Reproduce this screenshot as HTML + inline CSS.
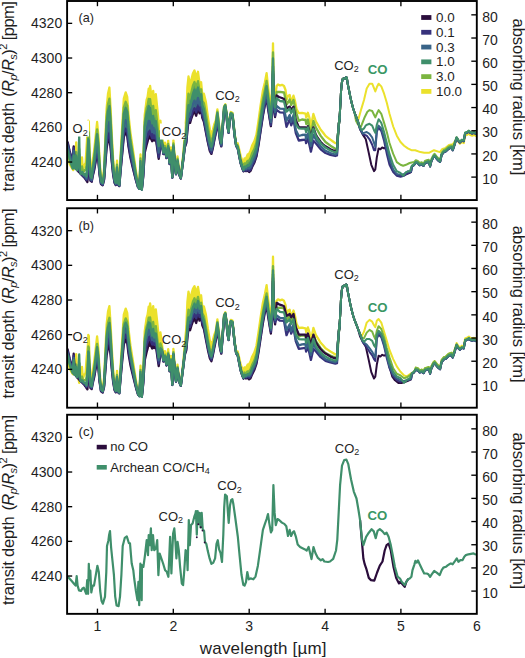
<!DOCTYPE html><html><head><meta charset="utf-8"><style>html,body{margin:0;padding:0;background:#fff;overflow:hidden}svg{display:block}</style></head><body>
<svg width="525" height="658" viewBox="0 0 525 658" style="font-family:'Liberation Sans',sans-serif">
<style>text{stroke:none}</style>
<rect width="525" height="658" fill="#fff"/>
<defs>
<clipPath id="cp0"><rect x="67.1" y="1.0" width="409.70000000000005" height="199.05"/></clipPath>
<clipPath id="cp1"><rect x="67.1" y="208.25" width="409.70000000000005" height="199.45"/></clipPath>
<clipPath id="cp2"><rect x="67.1" y="414.75" width="409.70000000000005" height="199.10000000000002"/></clipPath>
</defs>
<g clip-path="url(#cp0)">
<polygon points="88.3,122.5 88.3,120.6 88.8,121.8 89.5,148.1 90.5,168.9 91.7,171.1 92.7,160.9 94.1,151.1 95.6,136.6 97.1,122.0 98.4,136.2 99.6,160.7 101.0,177.0 102.7,179.1 104.1,168.6 105.3,139.7 106.6,108.5 108.0,93.8 109.4,87.5 110.6,108.4 111.8,135.4 113.2,160.4 114.6,174.9 115.8,179.1 117.0,160.7 118.1,179.2 119.3,181.2 120.5,156.8 121.9,131.7 123.8,98.7 125.7,92.4 127.2,96.9 128.5,114.6 130.4,132.3 132.3,145.5 134.2,158.7 136.1,172.0 138.0,182.9 139.4,186.2 140.5,154.5 141.8,187.4 143.2,163.3 144.7,115.2 146.6,99.9 147.6,96.9 148.7,88.6 149.5,92.9 150.1,86.0 151.1,94.0 152.2,100.7 153.2,90.9 154.2,102.9 155.8,94.1 157.3,108.5 158.7,123.1 160.4,120.6 162.0,135.8 163.4,147.1 164.9,142.7 166.5,151.7 168.2,140.7 169.6,158.7 171.0,147.5 172.3,174.5 173.4,140.2 174.6,156.2 176.0,170.6 177.5,156.4 179.1,170.7 180.8,175.5 181.9,166.1 183.5,151.8 184.8,134.0 186.3,116.3 187.4,87.4 188.5,76.5 190.1,85.9 191.4,79.5 192.9,73.5 194.5,70.4 196.2,77.6 198.0,71.8 199.5,83.2 201.1,82.2 202.3,94.4 203.9,93.8 205.9,102.1 207.9,117.1 209.9,129.8 211.4,135.0 212.8,130.0 214.2,124.5 215.8,120.5 217.4,109.3 218.8,122.2 220.1,135.0 221.3,141.4 222.7,123.8 224.1,106.3 225.3,104.2 226.7,114.1 227.3,123.1 228.6,130.7 229.8,116.7 230.8,112.0 232.4,112.7 233.4,121.1 234.6,133.4 236.2,143.8 237.7,143.3 239.2,149.6 240.7,156.3 242.2,160.1 243.5,162.7 244.5,158.4 246.0,158.5 247.6,154.6 249.1,153.7 250.6,150.4 252.1,145.5 254.3,141.3 256.4,134.8 258.5,120.8 260.6,105.4 262.8,91.1 264.9,82.3 266.6,73.2 268.1,87.4 269.6,99.4 270.9,108.9 272.1,87.8 273.0,43.3 273.8,88.0 275.1,97.5 275.1,103.4 273.8,94.5 273.0,52.4 272.1,94.4 270.9,114.4 269.6,105.5 268.1,94.2 266.6,80.9 264.9,89.7 262.8,99.6 260.6,114.2 258.5,129.3 256.4,142.6 254.3,149.0 252.1,153.2 250.6,157.8 249.1,160.5 247.6,160.9 246.0,163.8 244.5,163.3 243.5,166.9 242.2,164.0 240.7,159.8 239.2,152.5 237.7,145.5 236.2,144.7 234.6,134.2 233.4,122.0 232.4,113.6 230.8,112.8 229.8,117.5 228.6,131.3 227.3,123.7 226.7,114.8 225.3,104.9 224.1,106.9 222.7,124.6 221.3,142.3 220.1,136.2 218.8,123.9 217.4,111.6 215.8,123.3 214.2,129.6 212.8,136.5 211.4,142.1 209.9,137.7 207.9,126.6 205.9,113.5 203.9,103.1 202.3,100.9 201.1,89.3 199.5,91.0 198.0,81.2 196.2,87.5 194.5,82.0 192.9,85.8 191.4,92.2 190.1,98.7 188.5,93.7 187.4,104.6 186.3,126.7 184.8,139.2 183.5,154.2 181.9,167.8 180.8,176.9 179.1,172.3 177.5,158.7 176.0,172.3 174.6,158.6 173.4,143.4 172.3,176.0 171.0,150.4 169.6,161.0 168.2,144.0 166.5,154.5 164.9,146.0 163.4,150.2 162.0,139.6 160.4,131.0 158.7,137.0 157.3,123.7 155.8,110.2 154.2,116.8 153.2,106.0 152.2,114.1 151.1,107.8 150.1,99.2 149.5,104.4 148.7,99.0 147.6,105.4 146.6,108.2 144.7,122.3 143.2,166.6 141.8,188.8 140.5,158.5 139.4,187.7 138.0,184.7 136.1,174.6 134.2,162.5 132.3,150.4 130.4,138.2 128.5,122.0 127.2,105.9 125.7,101.8 123.8,107.7 121.9,138.0 120.5,161.0 119.3,183.3 118.1,181.5 117.0,164.6 115.8,181.4 114.6,177.7 113.2,164.5 111.8,142.0 110.6,117.5 109.4,98.7 108.0,104.3 106.6,117.5 105.3,145.7 104.1,172.0 102.7,181.4 101.0,179.5 99.6,164.7 98.4,142.3 97.1,129.3 95.6,143.2 94.1,156.8 92.7,166.0 91.7,175.2 90.5,173.5 89.5,155.6 88.8,133.0 88.3,131.7 88.3,132.5" fill="#ebe12c" stroke="none"/>
<polygon points="88.3,132.5 88.3,131.7 88.8,133.0 89.5,155.6 90.5,173.5 91.7,175.2 92.7,166.0 94.1,156.8 95.6,143.2 97.1,129.3 98.4,142.3 99.6,164.7 101.0,179.5 102.7,181.4 104.1,172.0 105.3,145.7 106.6,117.5 108.0,104.3 109.4,98.7 110.6,117.5 111.8,142.0 113.2,164.5 114.6,177.7 115.8,181.4 117.0,164.6 118.1,181.5 119.3,183.3 120.5,161.0 121.9,138.0 123.8,107.7 125.7,101.8 127.2,105.9 128.5,122.0 130.4,138.2 132.3,150.4 134.2,162.5 136.1,174.6 138.0,184.7 139.4,187.7 140.5,158.5 141.8,188.8 143.2,166.6 144.7,122.3 146.6,108.2 147.6,105.4 148.7,99.0 149.5,104.4 150.1,99.2 151.1,107.8 152.2,114.1 153.2,106.0 154.2,116.8 155.8,110.2 157.3,123.7 158.7,137.0 160.4,131.0 162.0,139.6 163.4,150.2 164.9,146.0 166.5,154.5 168.2,144.0 169.6,161.0 171.0,150.4 172.3,176.0 173.4,143.4 174.6,158.6 176.0,172.3 177.5,158.7 179.1,172.3 180.8,176.9 181.9,167.8 183.5,154.2 184.8,139.2 186.3,126.7 187.4,104.6 188.5,93.7 190.1,98.7 191.4,92.2 192.9,85.8 194.5,82.0 196.2,87.5 198.0,81.2 199.5,91.0 201.1,89.3 202.3,100.9 203.9,103.1 205.9,113.5 207.9,126.6 209.9,137.7 211.4,142.1 212.8,136.5 214.2,129.6 215.8,123.3 217.4,111.6 218.8,123.9 220.1,136.2 221.3,142.3 222.7,124.6 224.1,106.9 225.3,104.9 226.7,114.8 227.3,123.7 228.6,131.3 229.8,117.5 230.8,112.8 232.4,113.6 233.4,122.0 234.6,134.2 236.2,144.7 237.7,145.5 239.2,152.5 240.7,159.8 242.2,164.0 243.5,166.9 244.5,163.3 246.0,163.8 247.6,160.9 249.1,160.5 250.6,157.8 252.1,153.2 254.3,149.0 256.4,142.6 258.5,129.3 260.6,114.2 262.8,99.6 264.9,89.7 266.6,80.9 268.1,94.2 269.6,105.5 270.9,114.4 272.1,94.4 273.0,52.4 273.8,94.5 275.1,103.4 275.1,107.3 273.8,98.8 273.0,58.4 272.1,98.8 270.9,118.0 269.6,109.5 268.1,98.8 266.6,86.1 264.9,94.6 262.8,105.2 260.6,120.1 258.5,135.0 256.4,147.8 254.3,154.1 252.1,158.4 250.6,162.8 249.1,165.1 247.6,165.1 246.0,167.4 244.5,166.6 243.5,169.7 242.2,166.6 240.7,162.1 239.2,154.5 237.7,146.9 236.2,145.3 234.6,134.7 233.4,122.6 232.4,114.2 230.8,113.4 229.8,118.0 228.6,131.7 227.3,124.1 226.7,115.2 225.3,105.3 224.1,107.3 222.7,125.1 221.3,142.9 220.1,137.0 218.8,125.1 217.4,113.2 215.8,125.1 214.2,133.0 212.8,140.9 211.4,146.8 209.9,142.9 207.9,133.0 205.9,121.1 203.9,109.3 202.3,105.3 201.1,94.1 199.5,96.3 198.0,87.5 196.2,94.1 194.5,89.7 192.9,94.1 191.4,100.7 190.1,107.3 188.5,105.1 187.4,116.1 186.3,133.7 184.8,142.6 183.5,155.8 181.9,169.0 180.8,177.8 179.1,173.4 177.5,160.2 176.0,173.4 174.6,160.2 173.4,145.5 172.3,177.0 171.0,152.3 169.6,162.6 168.2,146.2 166.5,156.4 164.9,148.2 163.4,152.3 162.0,142.1 160.4,138.0 158.7,146.2 157.3,133.9 155.8,121.0 154.2,126.0 153.2,116.0 152.2,123.0 151.1,117.0 150.1,108.0 149.5,112.0 148.7,106.0 147.6,111.0 146.6,113.7 144.7,127.0 143.2,168.8 141.8,189.7 140.5,161.2 139.4,188.7 138.0,185.9 136.1,176.4 134.2,165.0 132.3,153.6 130.4,142.2 128.5,127.0 127.2,111.8 125.7,108.0 123.8,113.7 121.9,142.2 120.5,163.8 119.3,184.7 118.1,183.0 117.0,167.3 115.8,183.0 114.6,179.5 113.2,167.3 111.8,146.3 110.6,123.6 109.4,106.2 108.0,111.4 106.6,123.6 105.3,149.8 104.1,174.2 102.7,183.0 101.0,181.2 99.6,167.3 98.4,146.3 97.1,134.1 95.6,147.6 94.1,160.6 92.7,169.3 91.7,177.9 90.5,176.5 89.5,160.6 88.8,140.4 88.3,139.1 88.3,139.1" fill="#5fa455" stroke="none"/>
<polygon points="88.3,139.1 88.3,139.1 88.8,140.4 89.5,160.6 90.5,176.5 91.7,177.9 92.7,169.3 94.1,160.6 95.6,147.6 97.1,134.1 98.4,146.3 99.6,167.3 101.0,181.2 102.7,183.0 104.1,174.2 105.3,149.8 106.6,123.6 108.0,111.4 109.4,106.2 110.6,123.6 111.8,146.3 113.2,167.3 114.6,179.5 115.8,183.0 117.0,167.3 118.1,183.0 119.3,184.7 120.5,163.8 121.9,142.2 123.8,113.7 125.7,108.0 127.2,111.8 128.5,127.0 130.4,142.2 132.3,153.6 134.2,165.0 136.1,176.4 138.0,185.9 139.4,188.7 140.5,161.2 141.8,189.7 143.2,168.8 144.7,127.0 146.6,113.7 147.6,111.0 148.7,106.0 149.5,112.0 150.1,108.0 151.1,117.0 152.2,123.0 153.2,116.0 154.2,126.0 155.8,121.0 157.3,133.9 158.7,146.2 160.4,138.0 162.0,142.1 163.4,152.3 164.9,148.2 166.5,156.4 168.2,146.2 169.6,162.6 171.0,152.3 172.3,177.0 173.4,145.5 174.6,160.2 176.0,173.4 177.5,160.2 179.1,173.4 180.8,177.8 181.9,169.0 183.5,155.8 184.8,142.6 186.3,133.7 187.4,116.1 188.5,105.1 190.1,107.3 191.4,100.7 192.9,94.1 194.5,89.7 196.2,94.1 198.0,87.5 199.5,96.3 201.1,94.1 202.3,105.3 203.9,109.3 205.9,121.1 207.9,133.0 209.9,142.9 211.4,146.8 212.8,140.9 214.2,133.0 215.8,125.1 217.4,113.2 218.8,125.1 220.1,137.0 221.3,142.9 222.7,125.1 224.1,107.3 225.3,105.3 226.7,115.2 227.3,124.1 228.6,131.7 229.8,118.0 230.8,113.4 232.4,114.2 233.4,122.6 234.6,134.7 236.2,145.3 237.7,146.9 239.2,154.5 240.7,162.1 242.2,166.6 243.5,169.7 244.5,166.6 246.0,167.4 247.6,165.1 249.1,165.1 250.6,162.8 252.1,158.4 254.3,154.1 256.4,147.8 258.5,135.0 260.6,120.1 262.8,105.2 264.9,94.6 266.6,86.1 268.1,98.8 269.6,109.5 270.9,118.0 272.1,98.8 273.0,58.4 273.8,98.8 275.1,107.3 275.1,112.2 273.8,104.1 273.0,66.1 272.1,104.1 270.9,122.1 269.6,114.0 268.1,103.9 266.6,91.8 264.9,99.8 262.8,110.9 260.6,125.6 258.5,140.0 256.4,152.2 254.3,158.5 252.1,162.8 250.6,166.9 249.1,168.5 247.6,167.9 246.0,169.3 244.5,168.0 243.5,170.5 242.2,167.3 240.7,162.8 239.2,155.2 237.7,147.6 236.2,145.8 234.6,135.2 233.4,123.3 232.4,114.9 230.8,114.2 229.8,118.7 228.6,132.3 227.3,124.7 226.7,115.9 225.3,106.5 224.1,109.0 222.7,127.0 221.3,144.7 220.1,139.3 218.8,128.3 217.4,117.5 215.8,129.2 214.2,137.0 212.8,144.6 211.4,150.3 209.9,147.0 207.9,137.8 205.9,126.7 203.9,115.6 202.3,111.6 201.1,101.8 199.5,104.8 198.0,97.8 196.2,104.9 194.5,100.6 192.9,104.0 191.4,109.5 190.1,115.1 188.5,113.3 187.4,123.3 186.3,138.4 184.8,145.0 183.5,157.0 181.9,169.7 180.8,178.2 179.1,173.9 177.5,161.1 176.0,173.9 174.6,161.1 173.4,146.8 172.3,177.4 171.0,153.4 169.6,163.4 168.2,147.4 166.5,157.3 164.9,149.3 163.4,153.2 162.0,143.3 160.4,142.7 158.7,152.5 157.3,141.5 155.8,129.7 154.2,133.3 153.2,125.1 152.2,132.1 151.1,127.9 150.1,121.3 149.5,125.2 148.7,121.0 147.6,126.2 146.6,129.3 144.7,140.1 143.2,173.0 141.8,189.6 140.5,166.7 139.4,188.8 138.0,186.5 136.1,178.7 134.2,169.2 132.3,159.6 130.4,149.9 128.5,136.8 127.2,123.7 125.7,120.2 123.8,125.4 121.9,149.7 120.5,167.9 119.3,185.4 118.1,184.0 117.0,171.0 115.8,184.0 114.6,181.2 113.2,171.2 111.8,154.1 110.6,135.8 109.4,121.9 108.0,126.0 106.6,135.8 105.3,157.1 104.1,176.9 102.7,184.1 101.0,182.6 99.6,171.2 98.4,153.8 97.1,143.7 95.6,154.8 94.1,165.5 92.7,172.7 91.7,179.8 90.5,178.7 89.5,165.5 88.8,148.7 88.3,147.6 88.3,154.6" fill="#3f8f6b" stroke="none"/>
<polygon points="88.3,154.6 88.3,147.6 88.8,148.7 89.5,165.5 90.5,178.7 91.7,179.8 92.7,172.7 94.1,165.5 95.6,154.8 97.1,143.7 98.4,153.8 99.6,171.2 101.0,182.6 102.7,184.1 104.1,176.9 105.3,157.1 106.6,135.8 108.0,126.0 109.4,121.9 110.6,135.8 111.8,154.1 113.2,171.2 114.6,181.2 115.8,184.0 117.0,171.0 118.1,184.0 119.3,185.4 120.5,167.9 121.9,149.7 123.8,125.4 125.7,120.2 127.2,123.7 128.5,136.8 130.4,149.9 132.3,159.6 134.2,169.2 136.1,178.7 138.0,186.5 139.4,188.8 140.5,166.7 141.8,189.6 143.2,173.0 144.7,140.1 146.6,129.3 147.6,126.2 148.7,121.0 149.5,125.2 150.1,121.3 151.1,127.9 152.2,132.1 153.2,125.1 154.2,133.3 155.8,129.7 157.3,141.5 158.7,152.5 160.4,142.7 162.0,143.3 163.4,153.2 164.9,149.3 166.5,157.3 168.2,147.4 169.6,163.4 171.0,153.4 172.3,177.4 173.4,146.8 174.6,161.1 176.0,173.9 177.5,161.1 179.1,173.9 180.8,178.2 181.9,169.7 183.5,157.0 184.8,145.0 186.3,138.4 187.4,123.3 188.5,113.3 190.1,115.1 191.4,109.5 192.9,104.0 194.5,100.6 196.2,104.9 198.0,97.8 199.5,104.8 201.1,101.8 202.3,111.6 203.9,115.6 205.9,126.7 207.9,137.8 209.9,147.0 211.4,150.3 212.8,144.6 214.2,137.0 215.8,129.2 217.4,117.5 218.8,128.3 220.1,139.3 221.3,144.7 222.7,127.0 224.1,109.0 225.3,106.5 226.7,115.9 227.3,124.7 228.6,132.3 229.8,118.7 230.8,114.2 232.4,114.9 233.4,123.3 234.6,135.2 236.2,145.8 237.7,147.6 239.2,155.2 240.7,162.8 242.2,167.3 243.5,170.5 244.5,168.0 246.0,169.3 247.6,167.9 249.1,168.5 250.6,166.9 252.1,162.8 254.3,158.5 256.4,152.2 258.5,140.0 260.6,125.6 262.8,110.9 264.9,99.8 266.6,91.8 268.1,103.9 269.6,114.0 270.9,122.1 272.1,104.1 273.0,66.1 273.8,104.1 275.1,112.2 275.1,115.6 273.8,107.8 273.0,71.4 272.1,107.7 270.9,125.0 269.6,117.2 268.1,107.4 266.6,95.8 264.9,103.5 262.8,114.8 260.6,129.5 258.5,143.5 256.4,155.4 254.3,161.5 252.1,165.8 250.6,169.7 249.1,170.9 247.6,169.9 246.0,170.7 244.5,169.0 243.5,171.1 242.2,167.8 240.7,163.3 239.2,155.8 237.7,148.1 236.2,146.1 234.6,135.6 233.4,123.7 232.4,115.5 230.8,114.7 229.8,119.2 228.6,132.7 227.3,125.2 226.7,116.5 225.3,107.3 224.1,110.3 222.7,128.3 221.3,145.9 220.1,140.9 218.8,130.5 217.4,120.5 215.8,132.0 214.2,139.8 212.8,147.2 211.4,152.8 209.9,149.9 207.9,141.2 205.9,130.6 203.9,119.9 202.3,116.1 201.1,107.2 199.5,110.7 198.0,105.0 196.2,112.4 194.5,108.3 192.9,111.0 191.4,115.7 190.1,120.5 188.5,119.0 187.4,128.4 186.3,141.7 184.8,146.7 183.5,157.8 181.9,170.2 180.8,178.4 179.1,174.3 177.5,161.8 176.0,174.2 174.6,161.7 173.4,147.7 172.3,177.6 171.0,154.1 169.6,163.9 168.2,148.2 166.5,157.9 164.9,150.0 163.4,153.9 162.0,144.1 160.4,145.9 158.7,157.0 157.3,146.8 155.8,135.8 154.2,138.5 153.2,131.5 152.2,138.4 151.1,135.5 150.1,130.5 149.5,134.4 148.7,131.6 147.6,136.9 146.6,140.3 144.7,149.2 143.2,175.9 141.8,189.5 140.5,170.5 139.4,188.8 138.0,186.9 136.1,180.3 134.2,172.2 132.3,163.9 130.4,155.3 128.5,143.7 127.2,132.0 125.7,128.8 123.8,133.6 121.9,154.9 120.5,170.8 119.3,185.9 118.1,184.7 117.0,173.6 115.8,184.8 114.6,182.4 113.2,173.9 111.8,159.6 110.6,144.3 109.4,132.8 108.0,136.3 106.6,144.4 105.3,162.2 104.1,178.8 102.7,184.9 101.0,183.6 99.6,173.9 98.4,159.1 97.1,150.4 95.6,159.9 94.1,169.0 92.7,175.1 91.7,181.2 90.5,180.2 89.5,168.9 88.8,154.6 88.3,153.6 88.3,165.4" fill="#3a7080" stroke="none"/>
<polygon points="88.3,165.4 88.3,153.6 88.8,154.6 89.5,168.9 90.5,180.2 91.7,181.2 92.7,175.1 94.1,169.0 95.6,159.9 97.1,150.4 98.4,159.1 99.6,173.9 101.0,183.6 102.7,184.9 104.1,178.8 105.3,162.2 106.6,144.4 108.0,136.3 109.4,132.8 110.6,144.3 111.8,159.6 113.2,173.9 114.6,182.4 115.8,184.8 117.0,173.6 118.1,184.7 119.3,185.9 120.5,170.8 121.9,154.9 123.8,133.6 125.7,128.8 127.2,132.0 128.5,143.7 130.4,155.3 132.3,163.9 134.2,172.2 136.1,180.3 138.0,186.9 139.4,188.8 140.5,170.5 141.8,189.5 143.2,175.9 144.7,149.2 146.6,140.3 147.6,136.9 148.7,131.6 149.5,134.4 150.1,130.5 151.1,135.5 152.2,138.4 153.2,131.5 154.2,138.5 155.8,135.8 157.3,146.8 158.7,157.0 160.4,145.9 162.0,144.1 163.4,153.9 164.9,150.0 166.5,157.9 168.2,148.2 169.6,163.9 171.0,154.1 172.3,177.6 173.4,147.7 174.6,161.7 176.0,174.2 177.5,161.8 179.1,174.3 180.8,178.4 181.9,170.2 183.5,157.8 184.8,146.7 186.3,141.7 187.4,128.4 188.5,119.0 190.1,120.5 191.4,115.7 192.9,111.0 194.5,108.3 196.2,112.4 198.0,105.0 199.5,110.7 201.1,107.2 202.3,116.1 203.9,119.9 205.9,130.6 207.9,141.2 209.9,149.9 211.4,152.8 212.8,147.2 214.2,139.8 215.8,132.0 217.4,120.5 218.8,130.5 220.1,140.9 221.3,145.9 222.7,128.3 224.1,110.3 225.3,107.3 226.7,116.5 227.3,125.2 228.6,132.7 229.8,119.2 230.8,114.7 232.4,115.5 233.4,123.7 234.6,135.6 236.2,146.1 237.7,148.1 239.2,155.8 240.7,163.3 242.2,167.8 243.5,171.1 244.5,169.0 246.0,170.7 247.6,169.9 249.1,170.9 250.6,169.7 252.1,165.8 254.3,161.5 256.4,155.4 258.5,143.5 260.6,129.5 262.8,114.8 264.9,103.5 266.6,95.8 268.1,107.4 269.6,117.2 270.9,125.0 272.1,107.7 273.0,71.4 273.8,107.8 275.1,115.6 275.1,117.0 273.8,109.4 273.0,73.7 272.1,109.3 270.9,126.2 269.6,118.6 268.1,109.0 266.6,97.6 264.9,105.1 262.8,116.5 260.6,131.1 258.5,145.0 256.4,156.7 254.3,162.8 252.1,167.1 250.6,170.9 249.1,172.0 247.6,170.7 246.0,171.2 244.5,169.4 243.5,171.4 242.2,168.0 240.7,163.5 239.2,156.0 237.7,148.3 236.2,146.2 234.6,135.8 233.4,123.9 232.4,115.7 230.8,114.9 229.8,119.4 228.6,132.8 227.3,125.4 226.7,116.7 225.3,107.7 224.1,110.8 222.7,128.9 221.3,146.4 220.1,141.6 218.8,131.5 217.4,121.7 215.8,133.2 214.2,140.9 212.8,148.3 211.4,153.9 209.9,151.2 207.9,142.6 205.9,132.3 203.9,121.8 202.3,117.9 201.1,109.5 199.5,113.3 198.0,108.1 196.2,115.7 194.5,111.5 192.9,114.0 191.4,118.3 190.1,122.9 188.5,121.5 187.4,130.6 186.3,143.1 184.8,147.5 183.5,158.1 181.9,170.4 180.8,178.6 179.1,174.4 177.5,162.0 176.0,174.4 174.6,162.0 173.4,148.1 172.3,177.7 171.0,154.4 169.6,164.1 168.2,148.6 166.5,158.2 164.9,150.3 163.4,154.2 162.0,144.4 160.4,147.3 158.7,158.9 157.3,149.1 155.8,138.4 154.2,140.7 153.2,134.2 152.2,141.2 151.1,138.8 150.1,134.5 149.5,138.4 148.7,136.1 147.6,141.4 146.6,144.9 144.7,153.1 143.2,177.1 141.8,189.4 140.5,172.2 139.4,188.8 138.0,187.1 136.1,181.0 134.2,173.5 132.3,165.7 130.4,157.6 128.5,146.6 127.2,135.6 125.7,132.4 123.8,137.1 121.9,157.1 120.5,172.0 119.3,186.1 118.1,185.0 117.0,174.7 115.8,185.1 114.6,182.9 113.2,175.1 111.8,162.0 110.6,148.0 109.4,137.5 108.0,140.7 106.6,148.1 105.3,164.3 104.1,179.6 102.7,185.2 101.0,184.0 99.6,175.0 98.4,161.4 97.1,153.3 95.6,162.0 94.1,170.5 92.7,176.1 91.7,181.7 90.5,180.8 89.5,170.3 88.8,157.0 88.3,156.2 88.3,170.0" fill="#343f80" stroke="none"/>
<polyline points="67.2,156.0 67.8,157.3 69.6,163.7 71.5,167.4 72.8,169.3 73.3,170.1 73.7,169.3 74.7,167.3 75.1,166.5 76.0,146.7 76.2,142.3 76.9,159.6 77.1,164.6 77.9,166.3 78.3,167.2 78.8,168.3 79.2,167.9 79.9,167.2 80.6,166.5 81.0,163.9 82.0,157.3 82.4,163.0 82.9,170.1 83.8,167.4 84.2,166.1 84.7,164.6 85.1,163.8 85.6,162.8 86.1,154.7 86.5,148.2 87.4,133.6 88.3,122.5 88.3,120.6 88.8,121.8 89.5,148.1 90.5,168.9 91.7,171.1 92.7,160.9 94.1,151.1 95.6,136.6 97.1,122.0 98.4,136.2 99.6,160.7 101.0,177.0 102.7,179.1 104.1,168.6 105.3,139.7 106.6,108.5 108.0,93.8 109.4,87.5 110.6,108.4 111.8,135.4 113.2,160.4 114.6,174.9 115.8,179.1 117.0,160.7 118.1,179.2 119.3,181.2 120.5,156.8 121.9,131.7 123.8,98.7 125.7,92.4 127.2,96.9 128.5,114.6 130.4,132.3 132.3,145.5 134.2,158.7 136.1,172.0 138.0,182.9 139.4,186.2 140.5,154.5 141.8,187.4 143.2,163.3 144.7,115.2 146.6,99.9 147.6,96.9 148.7,88.6 149.5,92.9 150.1,86.0 151.1,94.0 152.2,100.7 153.2,90.9 154.2,102.9 155.8,94.1 157.3,108.5 158.7,123.1 160.4,120.6 162.0,135.8 163.4,147.1 164.9,142.7 166.5,151.7 168.2,140.7 169.6,158.7 171.0,147.5 172.3,174.5 173.4,140.2 174.6,156.2 176.0,170.6 177.5,156.4 179.1,170.7 180.8,175.5 181.9,166.1 183.5,151.8 184.8,134.0 186.3,116.3 187.4,87.4 188.5,76.5 190.1,85.9 191.4,79.5 192.9,73.5 194.5,70.4 196.2,77.6 198.0,71.8 199.5,83.2 201.1,82.2 202.3,94.4 203.9,93.8 205.9,102.1 207.9,117.1 209.9,129.8 211.4,135.0 212.8,130.0 214.2,124.5 215.8,120.5 217.4,109.3 218.8,122.2 220.1,135.0 221.3,141.4 222.7,123.8 224.1,106.3 225.3,104.2 226.7,114.1 227.3,123.1 228.6,130.7 229.8,116.7 230.8,112.0 232.4,112.7 233.4,121.1 234.6,133.4 236.2,143.8 237.7,143.3 239.2,149.6 240.7,156.3 242.2,160.1 243.5,162.7 244.5,158.4 246.0,158.5 247.6,154.6 249.1,153.7 250.6,150.4 252.1,145.5 254.3,141.3 256.4,134.8 258.5,120.8 260.6,105.4 262.8,91.1 264.9,82.3 266.6,73.2 268.1,87.4 269.6,99.4 270.9,108.9 272.1,87.8 273.0,43.3 273.8,88.0 275.1,97.5 276.6,86.0 278.0,84.5 280.0,85.5 282.0,84.8 284.0,86.0 285.5,90.0 286.8,99.5 288.0,96.0 289.7,95.0 291.2,102.6 293.5,95.7 295.0,101.0 296.5,109.0 298.8,113.2 302.0,112.8 305.5,113.6 306.3,117.7 307.9,112.8 309.5,118.0 310.9,129.8 312.2,120.0 313.4,114.0 315.8,121.3 318.0,125.0 320.7,129.8 323.0,132.5 325.5,135.9 328.0,137.8 330.4,139.6 333.0,141.5 335.3,143.2 337.0,142.8 337.8,136.0 338.9,124.0 339.6,117.0" fill="none" stroke="#ebe12c" stroke-width="2.3" stroke-linejoin="round" stroke-linecap="round" />
<polyline points="338.9,124.0 339.6,117.0 340.3,106.0 341.0,92.0 341.8,83.0 342.7,79.0 344.0,78.3 345.0,78.8 346.0,77.2 346.8,77.6 347.7,83.7 349.0,90.3 350.4,97.3 351.7,103.0 353.1,108.3 354.5,112.5 356.0,115.8 358.3,119.8 361.4,108.6 364.0,100.0 366.7,88.5 369.5,83.7 372.2,83.7 374.0,88.2 375.3,91.5 376.8,87.3 378.6,83.7 381.3,86.4 384.1,93.7 386.8,102.8 389.5,113.8 393.2,126.5 396.8,135.7 400.5,142.0 404.1,145.7 407.8,148.4 411.4,150.2 415.2,150.2 420.4,152.1 424.2,152.7 429.4,152.7 434.0,150.2 439.8,152.1 442.4,148.9 445.0,148.2 448.9,145.0 452.7,144.3 454.7,141.7 456.6,138.8 458.6,142.3 459.9,143.8 461.8,142.2 463.8,143.1 465.1,135.6 467.0,135.0 468.9,133.7 470.2,135.0 472.2,135.7 474.1,135.0 475.4,135.7 477.0,136.5" fill="none" stroke="#ebe12c" stroke-width="2.0" stroke-linejoin="round" stroke-linecap="round" />
<polyline points="67.2,152.1 67.8,153.5 69.6,160.5 71.5,165.7 72.8,168.7 73.3,164.8 73.7,161.0 74.7,167.9 75.1,165.2 76.0,152.0 76.2,152.2 76.9,165.9 77.1,167.4 77.9,166.2 78.3,165.6 78.8,156.7 79.2,149.0 79.9,168.9 80.6,170.1 81.0,169.8 82.0,166.4 82.4,168.4 82.9,171.8 83.8,171.8 84.2,171.1 84.7,170.3 85.1,169.8 85.6,170.0 86.1,167.3 86.5,165.2 87.4,150.6 88.3,132.5 88.3,131.7 88.8,133.0 89.5,155.6 90.5,173.5 91.7,175.2 92.7,166.0 94.1,156.8 95.6,143.2 97.1,129.3 98.4,142.3 99.6,164.7 101.0,179.5 102.7,181.4 104.1,172.0 105.3,145.7 106.6,117.5 108.0,104.3 109.4,98.7 110.6,117.5 111.8,142.0 113.2,164.5 114.6,177.7 115.8,181.4 117.0,164.6 118.1,181.5 119.3,183.3 120.5,161.0 121.9,138.0 123.8,107.7 125.7,101.8 127.2,105.9 128.5,122.0 130.4,138.2 132.3,150.4 134.2,162.5 136.1,174.6 138.0,184.7 139.4,187.7 140.5,158.5 141.8,188.8 143.2,166.6 144.7,122.3 146.6,108.2 147.6,105.4 148.7,99.0 149.5,104.4 150.1,99.2 151.1,107.8 152.2,114.1 153.2,106.0 154.2,116.8 155.8,110.2 157.3,123.7 158.7,137.0 160.4,131.0 162.0,139.6 163.4,150.2 164.9,146.0 166.5,154.5 168.2,144.0 169.6,161.0 171.0,150.4 172.3,176.0 173.4,143.4 174.6,158.6 176.0,172.3 177.5,158.7 179.1,172.3 180.8,176.9 181.9,167.8 183.5,154.2 184.8,139.2 186.3,126.7 187.4,104.6 188.5,93.7 190.1,98.7 191.4,92.2 192.9,85.8 194.5,82.0 196.2,87.5 198.0,81.2 199.5,91.0 201.1,89.3 202.3,100.9 203.9,103.1 205.9,113.5 207.9,126.6 209.9,137.7 211.4,142.1 212.8,136.5 214.2,129.6 215.8,123.3 217.4,111.6 218.8,123.9 220.1,136.2 221.3,142.3 222.7,124.6 224.1,106.9 225.3,104.9 226.7,114.8 227.3,123.7 228.6,131.3 229.8,117.5 230.8,112.8 232.4,113.6 233.4,122.0 234.6,134.2 236.2,144.7 237.7,145.5 239.2,152.5 240.7,159.8 242.2,164.0 243.5,166.9 244.5,163.3 246.0,163.8 247.6,160.9 249.1,160.5 250.6,157.8 252.1,153.2 254.3,149.0 256.4,142.6 258.5,129.3 260.6,114.2 262.8,99.6 264.9,89.7 266.6,80.9 268.1,94.2 269.6,105.5 270.9,114.4 272.1,94.4 273.0,52.4 273.8,94.5 275.1,103.4 276.6,92.0 280.0,91.9 284.0,92.5 286.8,104.5 289.7,99.5 291.2,105.0 293.5,100.0 296.0,112.0 298.8,120.8 302.0,119.5 305.5,120.0 306.3,124.0 307.9,119.5 310.9,136.0 313.4,121.0 315.8,127.4 320.7,135.9 325.5,142.0 330.4,145.7 335.3,148.7 337.0,148.0 337.8,140.0 338.9,124.0 339.6,117.0" fill="none" stroke="#7bb540" stroke-width="2.3" stroke-linejoin="round" stroke-linecap="round" />
<polyline points="338.9,124.0 339.6,117.0 340.3,106.0 341.0,92.0 341.8,83.0 342.7,79.0 344.0,78.3 345.0,78.8 346.0,77.2 346.8,77.6 347.7,83.7 349.0,90.3 350.4,97.3 351.7,103.0 353.1,108.3 354.5,112.5 356.0,120.8 358.0,124.5 360.6,127.6 364.4,117.8 367.4,111.7 369.5,110.1 372.2,111.0 374.0,114.7 375.3,117.4 376.8,113.8 378.6,110.1 381.3,113.8 384.1,122.9 386.8,132.0 389.5,143.0 393.2,153.9 396.8,162.1 400.5,164.8 403.2,165.8 406.0,164.8 409.6,163.0 414.0,162.1 415.8,160.3 417.8,161.0 419.7,162.9 421.7,162.3 423.6,163.6 424.9,161.0 426.8,160.3 428.8,159.7 430.1,164.2 431.4,159.0 433.3,155.1 434.6,153.8 436.6,156.4 438.5,158.4 440.1,159.7 441.7,152.5 443.7,150.0 445.6,149.3 447.6,147.4 449.5,146.1 451.5,145.4 452.7,148.0 454.7,142.2 456.6,137.2 458.6,140.4 459.9,141.7 461.8,139.8 463.8,140.4 465.1,132.7 467.0,132.0 468.9,130.7 470.2,132.0 472.2,132.7 474.1,132.0 475.4,132.7 477.0,133.5" fill="none" stroke="#7bb540" stroke-width="2.0" stroke-linejoin="round" stroke-linecap="round" />
<polyline points="67.2,141.5 67.8,142.8 69.6,151.0 71.5,157.3 72.8,160.1 73.3,152.5 73.7,146.4 74.7,166.5 75.1,167.1 76.0,168.3 76.2,168.6 76.9,169.6 77.1,169.9 77.9,171.0 78.3,171.4 78.8,171.9 79.2,172.3 79.9,173.1 80.6,173.8 81.0,174.2 82.0,175.2 82.4,175.6 82.9,176.1 83.8,177.0 84.2,177.4 84.7,178.1 85.1,178.7 85.6,179.4 86.1,180.1 86.5,180.7 87.4,182.0 88.3,170.0 88.3,156.2 88.8,157.0 89.5,170.3 90.5,180.8 91.7,181.7 92.7,176.1 94.1,170.5 95.6,162.0 97.1,153.3 98.4,161.4 99.6,175.0 101.0,184.0 102.7,185.2 104.1,179.6 105.3,164.3 106.6,148.1 108.0,140.7 109.4,137.5 110.6,148.0 111.8,162.0 113.2,175.1 114.6,182.9 115.8,185.1 117.0,174.7 118.1,185.0 119.3,186.1 120.5,172.0 121.9,157.1 123.8,137.1 125.7,132.4 127.2,135.6 128.5,146.6 130.4,157.6 132.3,165.7 134.2,173.5 136.1,181.0 138.0,187.1 139.4,188.8 140.5,172.2 141.8,189.4 143.2,177.1 144.7,153.1 146.6,144.9 147.6,141.4 148.7,136.1 149.5,138.4 150.1,134.5 151.1,138.8 152.2,141.2 153.2,134.2 154.2,140.7 155.8,138.4 157.3,149.1 158.7,158.9 160.4,147.3 162.0,144.4 163.4,154.2 164.9,150.3 166.5,158.2 168.2,148.6 169.6,164.1 171.0,154.4 172.3,177.7 173.4,148.1 174.6,162.0 176.0,174.4 177.5,162.0 179.1,174.4 180.8,178.6 181.9,170.4 183.5,158.1 184.8,147.5 186.3,143.1 187.4,130.6 188.5,121.5 190.1,122.9 191.4,118.3 192.9,114.0 194.5,111.5 196.2,115.7 198.0,108.1 199.5,113.3 201.1,109.5 202.3,117.9 203.9,121.8 205.9,132.3 207.9,142.6 209.9,151.2 211.4,153.9 212.8,148.3 214.2,140.9 215.8,133.2 217.4,121.7 218.8,131.5 220.1,141.6 221.3,146.4 222.7,128.9 224.1,110.8 225.3,107.7 226.7,116.7 227.3,125.4 228.6,132.8 229.8,119.4 230.8,114.9 232.4,115.7 233.4,123.9 234.6,135.8 236.2,146.2 237.7,148.3 239.2,156.0 240.7,163.5 242.2,168.0 243.5,171.4 244.5,169.4 246.0,171.2 247.6,170.7 249.1,172.0 250.6,170.9 252.1,167.1 254.3,162.8 256.4,156.7 258.5,145.0 260.6,131.1 262.8,116.5 264.9,105.1 266.6,97.6 268.1,109.0 269.6,118.6 270.9,126.2 272.1,109.3 273.0,73.7 273.8,109.4 275.1,117.0 276.6,95.5 279.0,97.0 282.0,98.0 284.0,99.0 286.5,108.6 289.7,106.6 291.2,110.0 293.5,106.6 295.8,120.0 298.8,127.2 302.0,127.4 305.5,127.4 306.1,130.8 307.9,126.2 309.5,131.8 310.9,139.6 312.2,131.8 313.4,127.4 315.8,134.7 318.0,138.3 320.7,142.0 323.0,144.3 325.5,146.3 328.0,147.8 330.4,149.3 333.0,150.3 335.3,151.1 337.0,149.8 337.8,136.0 338.9,124.0 339.6,117.0" fill="none" stroke="#2b0d3c" stroke-width="2.3" stroke-linejoin="round" stroke-linecap="round" />
<polyline points="338.9,124.0 339.6,117.0 340.3,106.0 341.0,92.0 341.8,83.0 342.7,79.0 344.0,78.3 345.0,78.8 346.0,77.2 346.8,77.6 347.7,83.7 349.0,90.3 350.4,97.3 351.7,103.0 353.1,108.3 354.5,112.5 356.0,116.3 358.0,121.5 360.0,129.0 363.0,135.0 365.8,139.3 368.6,152.1 371.3,164.8 374.0,171.2 375.3,169.4 376.8,157.5 378.6,148.4 380.4,149.3 382.2,147.5 384.1,148.4 385.9,147.5 387.7,150.2 389.5,159.4 392.3,169.4 395.0,173.0 398.7,175.8 401.4,175.8 404.1,175.0 408.0,173.5 411.0,172.0 411.9,166.5 413.9,165.2 415.8,162.6 417.8,163.3 419.7,165.2 421.7,164.6 423.6,165.9 424.9,163.3 426.8,162.6 428.8,162.0 430.1,166.5 431.4,161.3 433.3,157.4 434.6,156.1 436.6,158.7 438.5,160.7 440.1,162.0 441.7,154.8 443.7,152.3 445.6,151.6 447.6,149.7 449.5,148.4 451.5,147.7 452.7,150.3 454.7,144.5 456.6,138.0 458.6,141.2 459.9,142.5 461.8,140.6 463.8,141.2 465.1,133.5 467.0,132.8 468.9,131.5 470.2,132.8 472.2,133.5 474.1,132.8 475.4,133.5 477.0,134.3" fill="none" stroke="#2b0d3c" stroke-width="2.0" stroke-linejoin="round" stroke-linecap="round" />
<polyline points="67.2,142.7 67.8,144.0 69.6,152.1 71.5,158.4 72.8,161.3 73.3,153.8 73.7,147.8 74.7,166.8 75.1,166.7 76.0,166.4 76.2,167.1 76.9,169.7 77.1,169.8 77.9,170.3 78.3,170.4 78.8,168.5 79.2,167.0 79.9,172.6 80.6,173.6 81.0,174.1 82.0,174.8 82.4,175.1 82.9,175.6 83.8,176.7 84.2,177.0 84.7,177.5 85.1,177.9 85.6,178.7 86.1,179.4 86.5,180.1 87.4,179.0 88.3,165.4 88.3,153.6 88.8,154.6 89.5,168.9 90.5,180.2 91.7,181.2 92.7,175.1 94.1,169.0 95.6,159.9 97.1,150.4 98.4,159.1 99.6,173.9 101.0,183.6 102.7,184.9 104.1,178.8 105.3,162.2 106.6,144.4 108.0,136.3 109.4,132.8 110.6,144.3 111.8,159.6 113.2,173.9 114.6,182.4 115.8,184.8 117.0,173.6 118.1,184.7 119.3,185.9 120.5,170.8 121.9,154.9 123.8,133.6 125.7,128.8 127.2,132.0 128.5,143.7 130.4,155.3 132.3,163.9 134.2,172.2 136.1,180.3 138.0,186.9 139.4,188.8 140.5,170.5 141.8,189.5 143.2,175.9 144.7,149.2 146.6,140.3 147.6,136.9 148.7,131.6 149.5,134.4 150.1,130.5 151.1,135.5 152.2,138.4 153.2,131.5 154.2,138.5 155.8,135.8 157.3,146.8 158.7,157.0 160.4,145.9 162.0,144.1 163.4,153.9 164.9,150.0 166.5,157.9 168.2,148.2 169.6,163.9 171.0,154.1 172.3,177.6 173.4,147.7 174.6,161.7 176.0,174.2 177.5,161.8 179.1,174.3 180.8,178.4 181.9,170.2 183.5,157.8 184.8,146.7 186.3,141.7 187.4,128.4 188.5,119.0 190.1,120.5 191.4,115.7 192.9,111.0 194.5,108.3 196.2,112.4 198.0,105.0 199.5,110.7 201.1,107.2 202.3,116.1 203.9,119.9 205.9,130.6 207.9,141.2 209.9,149.9 211.4,152.8 212.8,147.2 214.2,139.8 215.8,132.0 217.4,120.5 218.8,130.5 220.1,140.9 221.3,145.9 222.7,128.3 224.1,110.3 225.3,107.3 226.7,116.5 227.3,125.2 228.6,132.7 229.8,119.2 230.8,114.7 232.4,115.5 233.4,123.7 234.6,135.6 236.2,146.1 237.7,148.1 239.2,155.8 240.7,163.3 242.2,167.8 243.5,171.1 244.5,169.0 246.0,170.7 247.6,169.9 249.1,170.9 250.6,169.7 252.1,165.8 254.3,161.5 256.4,155.4 258.5,143.5 260.6,129.5 262.8,114.8 264.9,103.5 266.6,95.8 268.1,107.4 269.6,117.2 270.9,125.0 272.1,107.7 273.0,71.4 273.8,107.8 275.1,115.6 276.6,110.0 280.0,112.4 284.0,112.6 286.5,126.9 289.7,119.3 291.2,125.3 293.5,119.3 295.8,133.0 298.8,140.5 302.0,140.0 305.5,139.6 306.1,143.2 307.9,138.0 310.9,151.7 313.4,140.8 315.8,143.2 320.7,149.3 325.5,153.0 330.4,154.8 335.3,156.0 337.0,155.5 337.8,138.0 338.9,124.0 339.6,117.0" fill="none" stroke="#37327c" stroke-width="2.3" stroke-linejoin="round" stroke-linecap="round" />
<polyline points="338.9,124.0 339.6,117.0 340.3,106.0 341.0,92.0 341.8,83.0 342.7,79.0 344.0,78.3 345.0,78.8 346.0,77.2 346.8,77.6 347.7,83.7 349.0,90.3 350.4,97.3 351.7,103.0 353.1,108.3 354.5,112.5 356.0,116.3 358.0,121.5 360.0,129.0 362.9,134.0 364.0,134.7 366.7,135.7 369.5,139.3 372.2,144.8 374.0,150.2 375.3,150.2 376.8,132.0 378.6,127.5 381.3,131.1 384.1,141.1 386.8,153.9 389.5,164.8 393.2,172.1 396.8,175.8 400.5,176.7 404.1,175.8 407.8,173.0 411.0,172.0 411.9,166.5 413.9,165.2 415.8,162.6 417.8,163.3 419.7,165.2 421.7,164.6 423.6,165.9 424.9,163.3 426.8,162.6 428.8,162.0 430.1,166.5 431.4,161.3 433.3,157.4 434.6,156.1 436.6,158.7 438.5,160.7 440.1,162.0 441.7,154.8 443.7,152.3 445.6,151.6 447.6,149.7 449.5,148.4 451.5,147.7 452.7,150.3 454.7,144.5 456.6,138.0 458.6,141.2 459.9,142.5 461.8,140.6 463.8,141.2 465.1,133.5 467.0,132.8 468.9,131.5 470.2,132.8 472.2,133.5 474.1,132.8 475.4,133.5 477.0,134.3" fill="none" stroke="#37327c" stroke-width="2.0" stroke-linejoin="round" stroke-linecap="round" />
<polyline points="67.2,145.5 67.8,146.9 69.6,154.7 71.5,160.9 72.8,164.2 73.3,156.8 73.7,150.9 74.7,167.4 75.1,165.7 76.0,161.9 76.2,163.7 76.9,169.8 77.1,169.6 77.9,168.6 78.3,168.0 78.8,160.4 79.2,154.4 79.9,171.6 80.6,173.1 81.0,174.0 82.0,173.9 82.4,173.8 82.9,174.5 83.8,175.8 84.2,175.9 84.7,176.1 85.1,176.2 85.6,177.1 86.1,177.9 86.5,178.6 87.4,171.9 88.3,154.6 88.3,147.6 88.8,148.7 89.5,165.5 90.5,178.7 91.7,179.8 92.7,172.7 94.1,165.5 95.6,154.8 97.1,143.7 98.4,153.8 99.6,171.2 101.0,182.6 102.7,184.1 104.1,176.9 105.3,157.1 106.6,135.8 108.0,126.0 109.4,121.9 110.6,135.8 111.8,154.1 113.2,171.2 114.6,181.2 115.8,184.0 117.0,171.0 118.1,184.0 119.3,185.4 120.5,167.9 121.9,149.7 123.8,125.4 125.7,120.2 127.2,123.7 128.5,136.8 130.4,149.9 132.3,159.6 134.2,169.2 136.1,178.7 138.0,186.5 139.4,188.8 140.5,166.7 141.8,189.6 143.2,173.0 144.7,140.1 146.6,129.3 147.6,126.2 148.7,121.0 149.5,125.2 150.1,121.3 151.1,127.9 152.2,132.1 153.2,125.1 154.2,133.3 155.8,129.7 157.3,141.5 158.7,152.5 160.4,142.7 162.0,143.3 163.4,153.2 164.9,149.3 166.5,157.3 168.2,147.4 169.6,163.4 171.0,153.4 172.3,177.4 173.4,146.8 174.6,161.1 176.0,173.9 177.5,161.1 179.1,173.9 180.8,178.2 181.9,169.7 183.5,157.0 184.8,145.0 186.3,138.4 187.4,123.3 188.5,113.3 190.1,115.1 191.4,109.5 192.9,104.0 194.5,100.6 196.2,104.9 198.0,97.8 199.5,104.8 201.1,101.8 202.3,111.6 203.9,115.6 205.9,126.7 207.9,137.8 209.9,147.0 211.4,150.3 212.8,144.6 214.2,137.0 215.8,129.2 217.4,117.5 218.8,128.3 220.1,139.3 221.3,144.7 222.7,127.0 224.1,109.0 225.3,106.5 226.7,115.9 227.3,124.7 228.6,132.3 229.8,118.7 230.8,114.2 232.4,114.9 233.4,123.3 234.6,135.2 236.2,145.8 237.7,147.6 239.2,155.2 240.7,162.8 242.2,167.3 243.5,170.5 244.5,168.0 246.0,169.3 247.6,167.9 249.1,168.5 250.6,166.9 252.1,162.8 254.3,158.5 256.4,152.2 258.5,140.0 260.6,125.6 262.8,110.9 264.9,99.8 266.6,91.8 268.1,103.9 269.6,114.0 270.9,122.1 272.1,104.1 273.0,66.1 273.8,104.1 275.1,112.2 276.6,106.0 280.0,108.6 284.0,108.8 286.5,120.8 289.7,115.0 291.2,122.0 293.5,115.0 295.8,130.0 298.8,136.0 302.0,135.0 305.5,134.7 306.1,139.0 307.9,133.5 310.9,146.0 313.4,134.7 315.8,139.6 320.7,146.5 325.5,150.8 330.4,153.0 335.3,154.5 337.0,153.5 337.8,137.0 338.9,124.0 339.6,117.0" fill="none" stroke="#396488" stroke-width="2.3" stroke-linejoin="round" stroke-linecap="round" />
<polyline points="338.9,124.0 339.6,117.0 340.3,106.0 341.0,92.0 341.8,83.0 342.7,79.0 344.0,78.3 345.0,78.8 346.0,77.2 346.8,77.6 347.7,83.7 349.0,90.3 350.4,97.3 351.7,103.0 353.1,108.3 354.5,112.5 356.0,116.3 358.0,121.5 360.0,128.5 362.9,133.5 364.0,132.9 366.7,132.0 369.5,133.8 372.2,137.5 374.0,143.0 375.3,146.6 376.8,130.2 378.6,125.6 381.3,128.4 384.1,137.5 386.8,148.4 389.5,159.4 393.2,169.4 396.8,174.0 400.5,174.9 404.1,174.0 407.8,171.2 411.0,171.6 411.9,166.5 413.9,165.2 415.8,162.6 417.8,163.3 419.7,165.2 421.7,164.6 423.6,165.9 424.9,163.3 426.8,162.6 428.8,162.0 430.1,166.5 431.4,161.3 433.3,157.4 434.6,156.1 436.6,158.7 438.5,160.7 440.1,162.0 441.7,154.8 443.7,152.3 445.6,151.6 447.6,149.7 449.5,148.4 451.5,147.7 452.7,150.3 454.7,144.5 456.6,138.0 458.6,141.2 459.9,142.5 461.8,140.6 463.8,141.2 465.1,133.5 467.0,132.8 468.9,131.5 470.2,132.8 472.2,133.5 474.1,132.8 475.4,133.5 477.0,134.3" fill="none" stroke="#396488" stroke-width="2.0" stroke-linejoin="round" stroke-linecap="round" />
<polyline points="67.2,149.5 67.8,151.0 69.6,158.3 71.5,164.6 72.8,168.3 73.3,161.2 73.7,155.5 74.7,168.3 75.1,164.4 76.0,155.5 76.2,158.7 76.9,170.1 77.1,169.3 77.9,166.2 78.3,164.6 78.8,148.9 79.2,136.4 79.9,170.1 80.6,172.5 81.0,173.8 82.0,172.5 82.4,172.0 82.9,173.0 83.8,174.7 84.2,174.4 84.7,174.1 85.1,173.8 85.6,174.8 86.1,175.7 86.5,176.5 87.4,161.9 88.3,139.1 88.3,139.1 88.8,140.4 89.5,160.6 90.5,176.5 91.7,177.9 92.7,169.3 94.1,160.6 95.6,147.6 97.1,134.1 98.4,146.3 99.6,167.3 101.0,181.2 102.7,183.0 104.1,174.2 105.3,149.8 106.6,123.6 108.0,111.4 109.4,106.2 110.6,123.6 111.8,146.3 113.2,167.3 114.6,179.5 115.8,183.0 117.0,167.3 118.1,183.0 119.3,184.7 120.5,163.8 121.9,142.2 123.8,113.7 125.7,108.0 127.2,111.8 128.5,127.0 130.4,142.2 132.3,153.6 134.2,165.0 136.1,176.4 138.0,185.9 139.4,188.7 140.5,161.2 141.8,189.7 143.2,168.8 144.7,127.0 146.6,113.7 147.6,111.0 148.7,106.0 149.5,112.0 150.1,108.0 151.1,117.0 152.2,123.0 153.2,116.0 154.2,126.0 155.8,121.0 157.3,133.9 158.7,146.2 160.4,138.0 162.0,142.1 163.4,152.3 164.9,148.2 166.5,156.4 168.2,146.2 169.6,162.6 171.0,152.3 172.3,177.0 173.4,145.5 174.6,160.2 176.0,173.4 177.5,160.2 179.1,173.4 180.8,177.8 181.9,169.0 183.5,155.8 184.8,142.6 186.3,133.7 187.4,116.1 188.5,105.1 190.1,107.3 191.4,100.7 192.9,94.1 194.5,89.7 196.2,94.1 198.0,87.5 199.5,96.3 201.1,94.1 202.3,105.3 203.9,109.3 205.9,121.1 207.9,133.0 209.9,142.9 211.4,146.8 212.8,140.9 214.2,133.0 215.8,125.1 217.4,113.2 218.8,125.1 220.1,137.0 221.3,142.9 222.7,125.1 224.1,107.3 225.3,105.3 226.7,115.2 227.3,124.1 228.6,131.7 229.8,118.0 230.8,113.4 232.4,114.2 233.4,122.6 234.6,134.7 236.2,145.3 237.7,146.9 239.2,154.5 240.7,162.1 242.2,166.6 243.5,169.7 244.5,166.6 246.0,167.4 247.6,165.1 249.1,165.1 250.6,162.8 252.1,158.4 254.3,154.1 256.4,147.8 258.5,135.0 260.6,120.1 262.8,105.2 264.9,94.6 266.6,86.1 268.1,98.8 269.6,109.5 270.9,118.0 272.1,98.8 273.0,58.4 273.8,98.8 275.1,107.3 276.6,98.0 280.0,101.0 284.0,101.5 286.5,111.7 289.7,108.6 291.2,113.2 293.5,108.6 295.8,123.8 298.8,128.4 302.0,128.6 305.5,128.6 306.1,132.0 307.9,127.4 309.5,133.0 310.9,140.8 312.2,133.0 313.4,128.6 315.8,135.9 318.0,139.5 320.7,143.2 323.0,145.5 325.5,147.5 328.0,149.0 330.4,150.5 333.0,151.5 335.3,152.3 337.0,151.0 337.8,136.0 338.9,124.0 339.6,117.0" fill="none" stroke="#3f8f6b" stroke-width="2.3" stroke-linejoin="round" stroke-linecap="round" />
<polyline points="338.9,124.0 339.6,117.0 340.3,106.0 341.0,92.0 341.8,83.0 342.7,79.0 344.0,78.3 345.0,78.8 346.0,77.2 346.8,77.6 347.7,83.7 349.0,90.3 350.4,97.3 351.7,103.0 353.1,108.3 354.5,112.5 356.0,116.3 358.0,121.5 360.0,128.0 362.1,129.9 364.0,128.4 365.9,125.3 367.0,124.7 369.5,123.8 372.2,125.6 374.0,130.2 375.3,132.9 376.8,124.7 378.6,119.2 381.3,122.9 384.1,132.0 386.8,143.0 389.5,153.9 393.2,164.8 396.8,171.2 400.5,173.0 403.2,175.8 406.0,172.1 410.0,170.9 411.9,165.7 413.9,164.4 415.8,161.8 417.8,162.5 419.7,164.4 421.7,163.8 423.6,165.1 424.9,162.5 426.8,161.8 428.8,161.2 430.1,165.7 431.4,160.5 433.3,156.6 434.6,155.3 436.6,157.9 438.5,159.9 440.1,161.2 441.7,154.0 443.7,151.5 445.6,150.8 447.6,148.9 449.5,147.6 451.5,146.9 452.7,149.5 454.7,143.7 456.6,137.2 458.6,140.4 459.9,141.7 461.8,139.8 463.8,140.4 465.1,132.7 467.0,132.0 468.9,130.7 470.2,132.0 472.2,132.7 474.1,132.0 475.4,132.7 477.0,133.5" fill="none" stroke="#3f8f6b" stroke-width="2.0" stroke-linejoin="round" stroke-linecap="round" />
</g>
<g clip-path="url(#cp1)">
<polygon points="88.3,340.7 88.3,334.9 88.8,336.0 89.5,359.5 90.5,378.2 91.7,380.3 92.7,371.1 94.1,362.3 95.6,349.4 97.1,336.3 98.4,349.0 99.6,371.0 101.0,385.6 102.7,387.4 104.1,378.1 105.3,352.3 106.6,324.6 108.0,311.6 109.4,306.1 110.6,324.5 111.8,348.5 113.2,370.7 114.6,383.7 115.8,387.4 117.0,370.9 118.1,387.5 119.3,389.3 120.5,367.3 121.9,344.5 123.8,314.5 125.7,308.6 127.2,312.9 128.5,329.0 130.4,345.2 132.3,357.3 134.2,369.2 136.1,381.1 138.0,390.9 139.4,393.8 140.5,365.7 141.8,394.8 143.2,373.6 144.7,331.5 146.6,318.0 147.6,314.7 148.7,306.7 149.5,310.1 150.1,303.4 151.1,310.2 152.2,315.7 153.2,306.2 154.2,316.9 155.8,309.3 157.3,322.9 158.7,336.5 160.4,332.4 162.0,344.4 163.4,355.5 164.9,351.2 166.5,360.0 168.2,349.2 169.6,366.8 171.0,355.9 172.3,382.2 173.4,348.8 174.6,364.5 176.0,378.5 177.5,364.6 179.1,378.6 180.8,383.3 181.9,374.1 183.5,360.2 184.8,343.7 186.3,328.1 187.4,301.9 188.5,291.6 190.1,300.0 191.4,294.2 192.9,288.8 194.5,286.2 196.2,293.1 198.0,286.9 199.5,296.9 201.1,295.3 202.3,306.5 203.9,306.4 205.9,314.6 207.9,328.9 209.9,340.9 211.4,345.6 212.8,340.6 214.2,335.1 215.8,330.7 217.4,319.5 218.8,331.7 220.1,343.9 221.3,349.9 222.7,332.4 224.1,314.8 225.3,312.3 226.7,322.0 227.3,330.9 228.6,338.4 229.8,324.6 230.8,319.9 232.4,320.6 233.4,329.0 234.6,341.1 236.2,351.5 237.7,351.4 239.2,357.8 240.7,364.7 242.2,368.4 243.5,371.2 244.5,367.3 246.0,367.8 247.6,364.7 249.1,364.2 250.6,361.4 252.1,356.7 254.3,352.5 256.4,346.0 258.5,332.5 260.6,317.5 262.8,303.2 264.9,294.0 266.6,285.2 268.1,298.9 269.6,310.4 270.9,319.6 272.1,299.4 273.0,256.7 273.8,299.5 275.1,308.7 275.1,314.9 273.8,306.4 273.0,266.2 272.1,306.3 270.9,325.3 269.6,316.8 268.1,306.1 266.6,293.4 264.9,301.7 262.8,312.1 260.6,326.8 258.5,341.5 256.4,354.2 254.3,360.6 252.1,364.8 250.6,369.2 249.1,371.4 247.6,371.3 246.0,373.4 244.5,372.5 243.5,375.6 242.2,372.6 240.7,368.3 239.2,360.9 237.7,353.6 236.2,352.5 234.6,342.0 233.4,329.9 232.4,321.5 230.8,320.8 229.8,325.4 228.6,339.1 227.3,331.5 226.7,322.6 225.3,313.0 224.1,315.4 222.7,333.2 221.3,350.9 220.1,345.1 218.8,333.5 217.4,322.0 215.8,333.6 214.2,340.4 212.8,347.5 211.4,353.0 209.9,349.2 207.9,338.9 205.9,326.6 203.9,316.2 202.3,313.4 201.1,302.8 199.5,305.2 198.0,296.8 196.2,303.4 194.5,298.3 192.9,301.8 191.4,307.5 190.1,313.5 188.5,309.6 187.4,320.0 186.3,339.1 184.8,349.0 183.5,362.7 181.9,375.9 180.8,384.7 179.1,380.3 177.5,367.0 176.0,380.2 174.6,367.0 173.4,352.1 172.3,383.8 171.0,358.9 169.6,369.3 168.2,352.7 166.5,363.0 164.9,354.7 163.4,358.8 162.0,348.4 160.4,343.4 158.7,351.1 157.3,338.9 155.8,326.2 154.2,331.5 153.2,322.0 152.2,329.7 151.1,324.6 150.1,317.3 149.5,322.1 148.7,317.6 147.6,323.6 146.6,326.7 144.7,339.0 143.2,377.1 141.8,396.3 140.5,370.0 139.4,395.4 138.0,392.8 136.1,383.9 134.2,373.2 132.3,362.3 130.4,351.4 128.5,336.8 127.2,322.2 125.7,318.4 123.8,324.0 121.9,351.1 120.5,371.7 119.3,391.5 118.1,389.9 117.0,375.0 115.8,389.9 114.6,386.6 113.2,375.1 111.8,355.4 110.6,334.1 109.4,317.8 108.0,322.7 106.6,334.1 105.3,358.7 104.1,381.6 102.7,389.9 101.0,388.2 99.6,375.1 98.4,355.4 97.1,343.9 95.6,356.3 94.1,368.3 92.7,376.4 91.7,384.5 90.5,383.0 89.5,367.4 88.8,347.7 88.3,346.5 88.3,351.2" fill="#ebe12c" stroke="none"/>
<polygon points="88.3,351.2 88.3,346.5 88.8,347.7 89.5,367.4 90.5,383.0 91.7,384.5 92.7,376.4 94.1,368.3 95.6,356.3 97.1,343.9 98.4,355.4 99.6,375.1 101.0,388.2 102.7,389.9 104.1,381.6 105.3,358.7 106.6,334.1 108.0,322.7 109.4,317.8 110.6,334.1 111.8,355.4 113.2,375.1 114.6,386.6 115.8,389.9 117.0,375.0 118.1,389.9 119.3,391.5 120.5,371.7 121.9,351.1 123.8,324.0 125.7,318.4 127.2,322.2 128.5,336.8 130.4,351.4 132.3,362.3 134.2,373.2 136.1,383.9 138.0,392.8 139.4,395.4 140.5,370.0 141.8,396.3 143.2,377.1 144.7,339.0 146.6,326.7 147.6,323.6 148.7,317.6 149.5,322.1 150.1,317.3 151.1,324.6 152.2,329.7 153.2,322.0 154.2,331.5 155.8,326.2 157.3,338.9 158.7,351.1 160.4,343.4 162.0,348.4 163.4,358.8 164.9,354.7 166.5,363.0 168.2,352.7 169.6,369.3 171.0,358.9 172.3,383.8 173.4,352.1 174.6,367.0 176.0,380.2 177.5,367.0 179.1,380.3 180.8,384.7 181.9,375.9 183.5,362.7 184.8,349.0 186.3,339.1 187.4,320.0 188.5,309.6 190.1,313.5 191.4,307.5 192.9,301.8 194.5,298.3 196.2,303.4 198.0,296.8 199.5,305.2 201.1,302.8 202.3,313.4 203.9,316.2 205.9,326.6 207.9,338.9 209.9,349.2 211.4,353.0 212.8,347.5 214.2,340.4 215.8,333.6 217.4,322.0 218.8,333.5 220.1,345.1 221.3,350.9 222.7,333.2 224.1,315.4 225.3,313.0 226.7,322.6 227.3,331.5 228.6,339.1 229.8,325.4 230.8,320.8 232.4,321.5 233.4,329.9 234.6,342.0 236.2,352.5 237.7,353.6 239.2,360.9 240.7,368.3 242.2,372.6 243.5,375.6 244.5,372.5 246.0,373.4 247.6,371.3 249.1,371.4 250.6,369.2 252.1,364.8 254.3,360.6 256.4,354.2 258.5,341.5 260.6,326.8 262.8,312.1 264.9,301.7 266.6,293.4 268.1,306.1 269.6,316.8 270.9,325.3 272.1,306.3 273.0,266.2 273.8,306.4 275.1,314.9 275.1,317.5 273.8,309.3 273.0,270.3 272.1,309.3 270.9,327.8 269.6,319.5 268.1,309.2 266.6,296.8 264.9,305.0 262.8,315.9 260.6,330.7 258.5,345.3 256.4,357.8 254.3,364.0 252.1,368.3 250.6,372.5 249.1,374.5 247.6,374.1 246.0,375.8 244.5,374.7 243.5,377.5 242.2,374.3 240.7,369.8 239.2,362.2 237.7,354.6 236.2,352.9 234.6,342.3 233.4,330.3 232.4,321.9 230.8,321.2 229.8,325.7 228.6,339.3 227.3,331.8 226.7,322.9 225.3,313.3 224.1,315.6 222.7,333.5 221.3,351.3 220.1,345.7 218.8,334.3 217.4,323.1 215.8,334.8 214.2,342.7 212.8,350.4 211.4,356.2 209.9,352.7 207.9,343.2 205.9,331.8 203.9,320.4 202.3,316.4 201.1,306.0 199.5,308.7 198.0,301.0 196.2,307.9 194.5,303.6 192.9,307.4 191.4,313.3 190.1,319.3 188.5,317.3 187.4,327.7 186.3,343.8 184.8,351.4 183.5,363.8 181.9,376.7 180.8,385.3 179.1,381.0 177.5,368.1 176.0,381.0 174.6,368.0 173.4,353.6 172.3,384.5 171.0,360.2 169.6,370.4 168.2,354.2 166.5,364.2 164.9,356.1 163.4,360.2 162.0,350.1 160.4,348.1 158.7,357.3 157.3,345.8 155.8,333.5 154.2,337.7 153.2,328.8 152.2,335.7 151.1,330.8 150.1,323.3 149.5,327.2 148.7,322.3 147.6,327.4 146.6,330.4 144.7,342.1 143.2,378.6 141.8,396.9 140.5,371.8 139.4,396.0 138.0,393.6 136.1,385.1 134.2,374.8 132.3,364.5 130.4,354.1 128.5,340.2 127.2,326.2 125.7,322.6 123.8,328.0 121.9,354.0 120.5,373.6 119.3,392.4 118.1,390.9 117.0,376.8 115.8,390.9 114.6,387.8 113.2,376.9 111.8,358.3 110.6,338.2 109.4,322.9 108.0,327.5 106.6,338.2 105.3,361.5 104.1,383.1 102.7,391.0 101.0,389.3 99.6,376.9 98.4,358.1 97.1,347.2 95.6,359.2 94.1,370.9 92.7,378.6 91.7,386.3 90.5,385.1 89.5,370.8 88.8,352.7 88.3,351.5 88.3,355.7" fill="#5fa455" stroke="none"/>
<polygon points="88.3,355.7 88.3,351.5 88.8,352.7 89.5,370.8 90.5,385.1 91.7,386.3 92.7,378.6 94.1,370.9 95.6,359.2 97.1,347.2 98.4,358.1 99.6,376.9 101.0,389.3 102.7,391.0 104.1,383.1 105.3,361.5 106.6,338.2 108.0,327.5 109.4,322.9 110.6,338.2 111.8,358.3 113.2,376.9 114.6,387.8 115.8,390.9 117.0,376.8 118.1,390.9 119.3,392.4 120.5,373.6 121.9,354.0 123.8,328.0 125.7,322.6 127.2,326.2 128.5,340.2 130.4,354.1 132.3,364.5 134.2,374.8 136.1,385.1 138.0,393.6 139.4,396.0 140.5,371.8 141.8,396.9 143.2,378.6 144.7,342.1 146.6,330.4 147.6,327.4 148.7,322.3 149.5,327.2 150.1,323.3 151.1,330.8 152.2,335.7 153.2,328.8 154.2,337.7 155.8,333.5 157.3,345.8 158.7,357.3 160.4,348.1 162.0,350.1 163.4,360.2 164.9,356.1 166.5,364.2 168.2,354.2 169.6,370.4 171.0,360.2 172.3,384.5 173.4,353.6 174.6,368.0 176.0,381.0 177.5,368.1 179.1,381.0 180.8,385.3 181.9,376.7 183.5,363.8 184.8,351.4 186.3,343.8 187.4,327.7 188.5,317.3 190.1,319.3 191.4,313.3 192.9,307.4 194.5,303.6 196.2,307.9 198.0,301.0 199.5,308.7 201.1,306.0 202.3,316.4 203.9,320.4 205.9,331.8 207.9,343.2 209.9,352.7 211.4,356.2 212.8,350.4 214.2,342.7 215.8,334.8 217.4,323.1 218.8,334.3 220.1,345.7 221.3,351.3 222.7,333.5 224.1,315.6 225.3,313.3 226.7,322.9 227.3,331.8 228.6,339.3 229.8,325.7 230.8,321.2 232.4,321.9 233.4,330.3 234.6,342.3 236.2,352.9 237.7,354.6 239.2,362.2 240.7,369.8 242.2,374.3 243.5,377.5 244.5,374.7 246.0,375.8 247.6,374.1 249.1,374.5 250.6,372.5 252.1,368.3 254.3,364.0 256.4,357.8 258.5,345.3 260.6,330.7 262.8,315.9 264.9,305.0 266.6,296.8 268.1,309.2 269.6,319.5 270.9,327.8 272.1,309.3 273.0,270.3 273.8,309.3 275.1,317.5 275.1,319.9 273.8,311.9 273.0,274.0 272.1,311.8 270.9,329.8 269.6,321.7 268.1,311.6 266.6,299.7 264.9,307.6 262.8,318.7 260.6,333.4 258.5,347.7 256.4,360.0 254.3,366.2 252.1,370.5 250.6,374.5 249.1,376.1 247.6,375.5 246.0,376.8 244.5,375.4 243.5,377.9 242.2,374.7 240.7,370.2 239.2,362.6 237.7,354.9 236.2,353.1 234.6,342.6 233.4,330.6 232.4,322.3 230.8,321.5 229.8,326.1 228.6,339.6 227.3,332.1 226.7,323.3 225.3,313.9 224.1,316.5 222.7,334.5 221.3,352.1 220.1,346.8 218.8,335.9 217.4,325.2 215.8,336.8 214.2,344.6 212.8,352.3 211.4,357.9 209.9,354.7 207.9,345.6 205.9,334.5 203.9,323.4 202.3,319.5 201.1,309.8 199.5,312.9 198.0,306.0 196.2,313.2 194.5,308.9 192.9,312.2 191.4,317.6 190.1,323.1 188.5,321.3 187.4,331.3 186.3,346.1 184.8,352.5 183.5,364.4 181.9,377.0 180.8,385.5 179.1,381.3 177.5,368.5 176.0,381.2 174.6,368.5 173.4,354.2 172.3,384.7 171.0,360.8 169.6,370.7 168.2,354.8 166.5,364.7 164.9,356.7 163.4,360.6 162.0,350.7 160.4,350.4 158.7,360.4 157.3,349.5 155.8,337.8 154.2,341.3 153.2,333.2 152.2,340.2 151.1,336.2 150.1,329.8 149.5,333.7 148.7,329.7 147.6,334.9 146.6,338.0 144.7,348.5 143.2,380.6 141.8,396.8 140.5,374.5 139.4,396.1 138.0,393.8 136.1,386.2 134.2,376.9 132.3,367.5 130.4,357.9 128.5,345.0 127.2,332.1 125.7,328.6 123.8,333.7 121.9,357.6 120.5,375.6 119.3,392.8 118.1,391.4 117.0,378.6 115.8,391.4 114.6,388.6 113.2,378.9 111.8,362.1 110.6,344.2 109.4,330.6 108.0,334.7 106.6,344.2 105.3,365.0 104.1,384.5 102.7,391.5 101.0,390.0 99.6,378.8 98.4,361.8 97.1,351.9 95.6,362.8 94.1,373.3 92.7,380.3 91.7,387.3 90.5,386.1 89.5,373.2 88.8,356.8 88.3,355.7 88.3,363.2" fill="#3f8f6b" stroke="none"/>
<polygon points="88.3,363.2 88.3,355.7 88.8,356.8 89.5,373.2 90.5,386.1 91.7,387.3 92.7,380.3 94.1,373.3 95.6,362.8 97.1,351.9 98.4,361.8 99.6,378.8 101.0,390.0 102.7,391.5 104.1,384.5 105.3,365.0 106.6,344.2 108.0,334.7 109.4,330.6 110.6,344.2 111.8,362.1 113.2,378.9 114.6,388.6 115.8,391.4 117.0,378.6 118.1,391.4 119.3,392.8 120.5,375.6 121.9,357.6 123.8,333.7 125.7,328.6 127.2,332.1 128.5,345.0 130.4,357.9 132.3,367.5 134.2,376.9 136.1,386.2 138.0,393.8 139.4,396.1 140.5,374.5 141.8,396.8 143.2,380.6 144.7,348.5 146.6,338.0 147.6,334.9 148.7,329.7 149.5,333.7 150.1,329.8 151.1,336.2 152.2,340.2 153.2,333.2 154.2,341.3 155.8,337.8 157.3,349.5 158.7,360.4 160.4,350.4 162.0,350.7 163.4,360.6 164.9,356.7 166.5,364.7 168.2,354.8 169.6,370.7 171.0,360.8 172.3,384.7 173.4,354.2 174.6,368.5 176.0,381.2 177.5,368.5 179.1,381.3 180.8,385.5 181.9,377.0 183.5,364.4 184.8,352.5 186.3,346.1 187.4,331.3 188.5,321.3 190.1,323.1 191.4,317.6 192.9,312.2 194.5,308.9 196.2,313.2 198.0,306.0 199.5,312.9 201.1,309.8 202.3,319.5 203.9,323.4 205.9,334.5 207.9,345.6 209.9,354.7 211.4,357.9 212.8,352.3 214.2,344.6 215.8,336.8 217.4,325.2 218.8,335.9 220.1,346.8 221.3,352.1 222.7,334.5 224.1,316.5 225.3,313.9 226.7,323.3 227.3,332.1 228.6,339.6 229.8,326.1 230.8,321.5 232.4,322.3 233.4,330.6 234.6,342.6 236.2,353.1 237.7,354.9 239.2,362.6 240.7,370.2 242.2,374.7 243.5,377.9 244.5,375.4 246.0,376.8 247.6,375.5 249.1,376.1 250.6,374.5 252.1,370.5 254.3,366.2 256.4,360.0 258.5,347.7 260.6,333.4 262.8,318.7 264.9,307.6 266.6,299.7 268.1,311.6 269.6,321.7 270.9,329.8 272.1,311.8 273.0,274.0 273.8,311.9 275.1,319.9 275.1,322.3 273.8,314.5 273.0,277.8 272.1,314.4 270.9,331.8 269.6,324.0 268.1,314.1 266.6,302.5 264.9,310.2 262.8,321.4 260.6,336.1 258.5,350.2 256.4,362.1 254.3,368.3 252.1,372.6 250.6,376.5 249.1,377.8 247.6,376.8 246.0,377.7 244.5,376.1 243.5,378.3 242.2,375.0 240.7,370.5 239.2,363.0 237.7,355.3 236.2,353.3 234.6,342.9 233.4,330.9 232.4,322.7 230.8,321.9 229.8,326.4 228.6,339.9 227.3,332.4 226.7,323.7 225.3,314.5 224.1,317.4 222.7,335.4 221.3,353.0 220.1,347.9 218.8,337.4 217.4,327.3 215.8,338.8 214.2,346.6 212.8,354.1 211.4,359.7 209.9,356.7 207.9,347.9 205.9,337.2 203.9,326.5 202.3,322.6 201.1,313.5 199.5,317.0 198.0,311.1 196.2,318.4 194.5,314.3 192.9,317.1 191.4,321.9 190.1,326.9 188.5,325.3 187.4,334.8 186.3,348.4 184.8,353.7 183.5,364.9 181.9,377.4 180.8,385.7 179.1,381.5 177.5,369.0 176.0,381.5 174.6,368.9 173.4,354.9 172.3,384.9 171.0,361.3 169.6,371.1 168.2,355.4 166.5,365.1 164.9,357.2 163.4,361.1 162.0,351.3 160.4,352.7 158.7,363.5 157.3,353.2 155.8,342.0 154.2,344.9 153.2,337.7 152.2,344.6 151.1,341.5 150.1,336.3 149.5,340.1 148.7,337.1 147.6,342.3 146.6,345.7 144.7,354.9 143.2,382.7 141.8,396.8 140.5,377.2 139.4,396.1 138.0,394.1 136.1,387.3 134.2,379.0 132.3,370.4 130.4,361.6 128.5,349.8 127.2,337.9 125.7,334.6 123.8,339.5 121.9,361.3 120.5,377.6 119.3,393.1 118.1,391.9 117.0,380.5 115.8,391.9 114.6,389.5 113.2,380.8 111.8,366.0 110.6,350.1 109.4,338.2 108.0,341.8 106.6,350.2 105.3,368.6 104.1,385.8 102.7,392.0 101.0,390.7 99.6,380.7 98.4,365.5 97.1,356.6 95.6,366.3 94.1,375.7 92.7,382.0 91.7,388.2 90.5,387.2 89.5,375.6 88.8,360.9 88.3,359.9 88.3,370.8" fill="#3a7080" stroke="none"/>
<polygon points="88.3,370.8 88.3,359.9 88.8,360.9 89.5,375.6 90.5,387.2 91.7,388.2 92.7,382.0 94.1,375.7 95.6,366.3 97.1,356.6 98.4,365.5 99.6,380.7 101.0,390.7 102.7,392.0 104.1,385.8 105.3,368.6 106.6,350.2 108.0,341.8 109.4,338.2 110.6,350.1 111.8,366.0 113.2,380.8 114.6,389.5 115.8,391.9 117.0,380.5 118.1,391.9 119.3,393.1 120.5,377.6 121.9,361.3 123.8,339.5 125.7,334.6 127.2,337.9 128.5,349.8 130.4,361.6 132.3,370.4 134.2,379.0 136.1,387.3 138.0,394.1 139.4,396.1 140.5,377.2 141.8,396.8 143.2,382.7 144.7,354.9 146.6,345.7 147.6,342.3 148.7,337.1 149.5,340.1 150.1,336.3 151.1,341.5 152.2,344.6 153.2,337.7 154.2,344.9 155.8,342.0 157.3,353.2 158.7,363.5 160.4,352.7 162.0,351.3 163.4,361.1 164.9,357.2 166.5,365.1 168.2,355.4 169.6,371.1 171.0,361.3 172.3,384.9 173.4,354.9 174.6,368.9 176.0,381.5 177.5,369.0 179.1,381.5 180.8,385.7 181.9,377.4 183.5,364.9 184.8,353.7 186.3,348.4 187.4,334.8 188.5,325.3 190.1,326.9 191.4,321.9 192.9,317.1 194.5,314.3 196.2,318.4 198.0,311.1 199.5,317.0 201.1,313.5 202.3,322.6 203.9,326.5 205.9,337.2 207.9,347.9 209.9,356.7 211.4,359.7 212.8,354.1 214.2,346.6 215.8,338.8 217.4,327.3 218.8,337.4 220.1,347.9 221.3,353.0 222.7,335.4 224.1,317.4 225.3,314.5 226.7,323.7 227.3,332.4 228.6,339.9 229.8,326.4 230.8,321.9 232.4,322.7 233.4,330.9 234.6,342.9 236.2,353.3 237.7,355.3 239.2,363.0 240.7,370.5 242.2,375.0 243.5,378.3 244.5,376.1 246.0,377.7 247.6,376.8 249.1,377.8 250.6,376.5 252.1,372.6 254.3,368.3 256.4,362.1 258.5,350.2 260.6,336.1 262.8,321.4 264.9,310.2 266.6,302.5 268.1,314.1 269.6,324.0 270.9,331.8 272.1,314.4 273.0,277.8 273.8,314.5 275.1,322.3 275.1,324.3 273.8,316.7 273.0,281.0 272.1,316.6 270.9,333.5 269.6,325.9 268.1,316.3 266.6,304.9 264.9,312.4 262.8,323.8 260.6,338.4 258.5,352.3 256.4,364.0 254.3,370.1 252.1,374.4 250.6,378.2 249.1,379.3 247.6,378.0 246.0,378.5 244.5,376.7 243.5,378.7 242.2,375.3 240.7,370.8 239.2,363.3 237.7,355.6 236.2,353.5 234.6,343.1 233.4,331.2 232.4,323.0 230.8,322.2 229.8,326.7 228.6,340.1 227.3,332.7 226.7,324.0 225.3,315.0 224.1,318.1 222.7,336.2 221.3,353.7 220.1,348.9 218.8,338.8 217.4,329.0 215.8,340.5 214.2,348.2 212.8,355.6 211.4,361.2 209.9,358.5 207.9,349.9 205.9,339.6 203.9,329.1 202.3,325.2 201.1,316.8 199.5,320.6 198.0,315.4 196.2,323.0 194.5,318.8 192.9,321.3 191.4,325.6 190.1,330.2 188.5,328.8 187.4,337.9 186.3,350.4 184.8,354.8 183.5,365.4 181.9,377.7 180.8,385.9 179.1,381.7 177.5,369.3 176.0,381.7 174.6,369.3 173.4,355.4 172.3,385.0 171.0,361.7 169.6,371.4 168.2,355.9 166.5,365.5 164.9,357.6 163.4,361.5 162.0,351.7 160.4,354.6 158.7,366.2 157.3,356.4 155.8,345.7 154.2,348.0 153.2,341.6 152.2,348.5 151.1,346.1 150.1,341.8 149.5,345.7 148.7,343.4 147.6,348.7 146.6,352.2 144.7,360.4 143.2,384.4 141.8,396.7 140.5,379.5 139.4,396.1 138.0,394.4 136.1,388.3 134.2,380.8 132.3,373.0 130.4,364.9 128.5,353.9 127.2,342.9 125.7,339.7 123.8,344.4 121.9,364.4 120.5,379.3 119.3,393.4 118.1,392.3 117.0,382.0 115.8,392.4 114.6,390.2 113.2,382.4 111.8,369.3 110.6,355.3 109.4,344.8 108.0,348.0 106.6,355.4 105.3,371.6 104.1,386.9 102.7,392.5 101.0,391.3 99.6,382.3 98.4,368.7 97.1,360.6 95.6,369.3 94.1,377.8 92.7,383.4 91.7,389.0 90.5,388.1 89.5,377.6 88.8,364.3 88.3,363.5 88.3,377.3" fill="#343f80" stroke="none"/>
<polyline points="67.2,360.2 67.8,361.5 69.6,368.3 71.5,372.2 72.8,374.1 73.3,373.9 73.7,372.5 74.7,374.2 75.1,374.4 76.0,358.7 76.2,354.2 76.9,367.8 77.1,372.5 77.9,375.1 78.3,376.3 78.8,380.6 79.2,382.8 79.9,375.7 80.6,374.8 81.0,372.3 82.0,366.9 82.4,372.3 82.9,378.6 83.8,376.1 84.2,375.2 84.7,374.1 85.1,373.6 85.6,372.7 86.1,365.4 86.5,359.6 87.4,349.8 88.3,340.7 88.3,334.9 88.8,336.0 89.5,359.5 90.5,378.2 91.7,380.3 92.7,371.1 94.1,362.3 95.6,349.4 97.1,336.3 98.4,349.0 99.6,371.0 101.0,385.6 102.7,387.4 104.1,378.1 105.3,352.3 106.6,324.6 108.0,311.6 109.4,306.1 110.6,324.5 111.8,348.5 113.2,370.7 114.6,383.7 115.8,387.4 117.0,370.9 118.1,387.5 119.3,389.3 120.5,367.3 121.9,344.5 123.8,314.5 125.7,308.6 127.2,312.9 128.5,329.0 130.4,345.2 132.3,357.3 134.2,369.2 136.1,381.1 138.0,390.9 139.4,393.8 140.5,365.7 141.8,394.8 143.2,373.6 144.7,331.5 146.6,318.0 147.6,314.7 148.7,306.7 149.5,310.1 150.1,303.4 151.1,310.2 152.2,315.7 153.2,306.2 154.2,316.9 155.8,309.3 157.3,322.9 158.7,336.5 160.4,332.4 162.0,344.4 163.4,355.5 164.9,351.2 166.5,360.0 168.2,349.2 169.6,366.8 171.0,355.9 172.3,382.2 173.4,348.8 174.6,364.5 176.0,378.5 177.5,364.6 179.1,378.6 180.8,383.3 181.9,374.1 183.5,360.2 184.8,343.7 186.3,328.1 187.4,301.9 188.5,291.6 190.1,300.0 191.4,294.2 192.9,288.8 194.5,286.2 196.2,293.1 198.0,286.9 199.5,296.9 201.1,295.3 202.3,306.5 203.9,306.4 205.9,314.6 207.9,328.9 209.9,340.9 211.4,345.6 212.8,340.6 214.2,335.1 215.8,330.7 217.4,319.5 218.8,331.7 220.1,343.9 221.3,349.9 222.7,332.4 224.1,314.8 225.3,312.3 226.7,322.0 227.3,330.9 228.6,338.4 229.8,324.6 230.8,319.9 232.4,320.6 233.4,329.0 234.6,341.1 236.2,351.5 237.7,351.4 239.2,357.8 240.7,364.7 242.2,368.4 243.5,371.2 244.5,367.3 246.0,367.8 247.6,364.7 249.1,364.2 250.6,361.4 252.1,356.7 254.3,352.5 256.4,346.0 258.5,332.5 260.6,317.5 262.8,303.2 264.9,294.0 266.6,285.2 268.1,298.9 269.6,310.4 270.9,319.6 272.1,299.4 273.0,256.7 273.8,299.5 275.1,308.7 276.6,300.8 278.0,299.3 280.0,300.3 282.0,299.6 284.0,300.8 285.5,304.8 286.8,314.3 288.0,310.8 289.7,309.8 291.2,317.4 293.5,310.5 295.0,315.8 296.5,323.8 298.8,328.0 302.0,327.6 305.5,328.4 306.3,332.5 307.9,327.4 309.5,332.4 310.9,344.0 312.2,334.1 313.4,327.9 315.8,334.9 318.0,338.4 320.7,342.8 323.0,345.2 325.5,348.3 328.0,349.9 330.4,351.5 333.0,353.0 335.3,354.5 337.0,354.1 337.8,345.6 338.9,331.3 339.6,324.3" fill="none" stroke="#ebe12c" stroke-width="2.3" stroke-linejoin="round" stroke-linecap="round" />
<polyline points="338.9,331.3 339.6,324.3 340.3,313.3 341.0,299.3 341.8,290.3 342.7,286.3 344.0,285.6 345.0,286.1 346.0,284.5 346.8,284.9 347.7,291.0 349.0,297.6 350.4,304.6 351.7,310.3 353.1,315.6 354.5,319.8 356.0,323.6 358.0,328.8 361.4,336.9 364.0,331.7 366.7,322.6 369.5,319.9 372.2,321.7 374.0,325.3 375.3,327.2 376.8,320.8 378.6,319.0 381.3,322.6 384.1,331.7 386.8,340.8 389.5,350.0 393.2,359.1 396.8,366.4 400.5,371.8 404.1,375.5 406.9,376.4 410.5,373.7 414.0,371.8 415.8,367.6 417.8,368.3 419.7,370.2 421.7,369.6 423.6,370.9 424.9,368.3 426.8,367.6 428.8,367.0 430.1,371.5 431.4,366.3 433.3,362.4 434.6,361.1 436.6,363.7 438.5,365.7 440.1,367.0 441.7,359.8 443.7,357.3 445.6,356.6 447.6,354.7 449.5,353.4 451.5,352.7 452.7,355.3 454.7,349.5 456.6,343.0 458.6,346.2 459.9,347.5 461.8,345.6 463.8,346.2 465.1,338.5 467.0,337.8 468.9,336.5 470.2,337.8 472.2,338.5 474.1,337.8 475.4,338.5 477.0,339.3" fill="none" stroke="#ebe12c" stroke-width="2.0" stroke-linejoin="round" stroke-linecap="round" />
<polyline points="67.2,356.2 67.8,357.5 69.6,364.9 71.5,370.5 72.8,373.4 73.3,368.3 73.7,363.8 74.7,374.8 75.1,373.0 76.0,364.3 76.2,364.6 76.9,374.4 77.1,375.5 77.9,375.0 78.3,374.6 78.8,368.4 79.2,363.0 79.9,377.5 80.6,378.6 81.0,378.5 82.0,376.5 82.4,377.9 82.9,380.4 83.8,380.7 84.2,380.4 84.7,380.0 85.1,379.9 85.6,380.2 86.1,378.7 86.5,377.4 87.4,367.6 88.3,351.2 88.3,346.5 88.8,347.7 89.5,367.4 90.5,383.0 91.7,384.5 92.7,376.4 94.1,368.3 95.6,356.3 97.1,343.9 98.4,355.4 99.6,375.1 101.0,388.2 102.7,389.9 104.1,381.6 105.3,358.7 106.6,334.1 108.0,322.7 109.4,317.8 110.6,334.1 111.8,355.4 113.2,375.1 114.6,386.6 115.8,389.9 117.0,375.0 118.1,389.9 119.3,391.5 120.5,371.7 121.9,351.1 123.8,324.0 125.7,318.4 127.2,322.2 128.5,336.8 130.4,351.4 132.3,362.3 134.2,373.2 136.1,383.9 138.0,392.8 139.4,395.4 140.5,370.0 141.8,396.3 143.2,377.1 144.7,339.0 146.6,326.7 147.6,323.6 148.7,317.6 149.5,322.1 150.1,317.3 151.1,324.6 152.2,329.7 153.2,322.0 154.2,331.5 155.8,326.2 157.3,338.9 158.7,351.1 160.4,343.4 162.0,348.4 163.4,358.8 164.9,354.7 166.5,363.0 168.2,352.7 169.6,369.3 171.0,358.9 172.3,383.8 173.4,352.1 174.6,367.0 176.0,380.2 177.5,367.0 179.1,380.3 180.8,384.7 181.9,375.9 183.5,362.7 184.8,349.0 186.3,339.1 187.4,320.0 188.5,309.6 190.1,313.5 191.4,307.5 192.9,301.8 194.5,298.3 196.2,303.4 198.0,296.8 199.5,305.2 201.1,302.8 202.3,313.4 203.9,316.2 205.9,326.6 207.9,338.9 209.9,349.2 211.4,353.0 212.8,347.5 214.2,340.4 215.8,333.6 217.4,322.0 218.8,333.5 220.1,345.1 221.3,350.9 222.7,333.2 224.1,315.4 225.3,313.0 226.7,322.6 227.3,331.5 228.6,339.1 229.8,325.4 230.8,320.8 232.4,321.5 233.4,329.9 234.6,342.0 236.2,352.5 237.7,353.6 239.2,360.9 240.7,368.3 242.2,372.6 243.5,375.6 244.5,372.5 246.0,373.4 247.6,371.3 249.1,371.4 250.6,369.2 252.1,364.8 254.3,360.6 256.4,354.2 258.5,341.5 260.6,326.8 262.8,312.1 264.9,301.7 266.6,293.4 268.1,306.1 269.6,316.8 270.9,325.3 272.1,306.3 273.0,266.2 273.8,306.4 275.1,314.9 276.6,307.8 280.0,307.7 284.0,308.3 286.8,320.3 289.7,315.3 291.2,320.8 293.5,315.8 296.0,327.8 298.8,336.6 302.0,335.3 305.5,335.8 306.3,339.7 307.9,334.8 310.9,350.6 313.4,335.0 315.8,340.8 320.7,348.2 325.5,353.1 330.4,355.6 335.3,357.5 337.0,356.8 337.8,349.9 338.9,331.3 339.6,324.3" fill="none" stroke="#7bb540" stroke-width="2.3" stroke-linejoin="round" stroke-linecap="round" />
<polyline points="338.9,331.3 339.6,324.3 340.3,313.3 341.0,299.3 341.8,290.3 342.7,286.3 344.0,285.6 345.0,286.1 346.0,284.5 346.8,284.9 347.7,291.0 349.0,297.6 350.4,304.6 351.7,310.3 353.1,315.6 354.5,319.8 356.0,323.6 358.0,328.8 362.0,338.3 364.0,338.1 366.7,332.6 369.5,329.9 372.2,331.7 374.0,336.3 375.3,339.0 376.8,330.8 378.6,326.2 381.3,329.0 384.1,337.2 386.8,348.1 389.5,357.2 393.2,368.2 396.8,373.7 400.5,375.5 404.1,378.2 406.9,377.3 414.0,372.7 415.8,367.6 417.8,368.3 419.7,370.2 421.7,369.6 423.6,370.9 424.9,368.3 426.8,367.6 428.8,367.0 430.1,371.5 431.4,366.3 433.3,362.4 434.6,361.1 436.6,363.7 438.5,365.7 440.1,367.0 441.7,359.8 443.7,357.3 445.6,356.6 447.6,354.7 449.5,353.4 451.5,352.7 452.7,355.3 454.7,349.5 456.6,344.5 458.6,347.7 459.9,349.0 461.8,347.1 463.8,347.7 465.1,340.0 467.0,339.3 468.9,338.0 470.2,339.3 472.2,340.0 474.1,339.3 475.4,340.0 477.0,340.8" fill="none" stroke="#7bb540" stroke-width="2.0" stroke-linejoin="round" stroke-linecap="round" />
<polyline points="67.2,348.8 67.8,350.1 69.6,358.3 71.5,364.6 72.8,367.4 73.3,359.8 73.7,353.7 74.7,373.8 75.1,374.4 76.0,375.6 76.2,375.9 76.9,376.9 77.1,377.2 77.9,378.3 78.3,378.7 78.8,379.2 79.2,379.6 79.9,380.4 80.6,381.1 81.0,381.5 82.0,382.5 82.4,382.9 82.9,383.4 83.8,384.3 84.2,384.7 84.7,385.4 85.1,386.0 85.6,386.7 86.1,387.4 86.5,388.0 87.4,389.3 88.3,377.3 88.3,363.5 88.8,364.3 89.5,377.6 90.5,388.1 91.7,389.0 92.7,383.4 94.1,377.8 95.6,369.3 97.1,360.6 98.4,368.7 99.6,382.3 101.0,391.3 102.7,392.5 104.1,386.9 105.3,371.6 106.6,355.4 108.0,348.0 109.4,344.8 110.6,355.3 111.8,369.3 113.2,382.4 114.6,390.2 115.8,392.4 117.0,382.0 118.1,392.3 119.3,393.4 120.5,379.3 121.9,364.4 123.8,344.4 125.7,339.7 127.2,342.9 128.5,353.9 130.4,364.9 132.3,373.0 134.2,380.8 136.1,388.3 138.0,394.4 139.4,396.1 140.5,379.5 141.8,396.7 143.2,384.4 144.7,360.4 146.6,352.2 147.6,348.7 148.7,343.4 149.5,345.7 150.1,341.8 151.1,346.1 152.2,348.5 153.2,341.6 154.2,348.0 155.8,345.7 157.3,356.4 158.7,366.2 160.4,354.6 162.0,351.7 163.4,361.5 164.9,357.6 166.5,365.5 168.2,355.9 169.6,371.4 171.0,361.7 172.3,385.0 173.4,355.4 174.6,369.3 176.0,381.7 177.5,369.3 179.1,381.7 180.8,385.9 181.9,377.7 183.5,365.4 184.8,354.8 186.3,350.4 187.4,337.9 188.5,328.8 190.1,330.2 191.4,325.6 192.9,321.3 194.5,318.8 196.2,323.0 198.0,315.4 199.5,320.6 201.1,316.8 202.3,325.2 203.9,329.1 205.9,339.6 207.9,349.9 209.9,358.5 211.4,361.2 212.8,355.6 214.2,348.2 215.8,340.5 217.4,329.0 218.8,338.8 220.1,348.9 221.3,353.7 222.7,336.2 224.1,318.1 225.3,315.0 226.7,324.0 227.3,332.7 228.6,340.1 229.8,326.7 230.8,322.2 232.4,323.0 233.4,331.2 234.6,343.1 236.2,353.5 237.7,355.6 239.2,363.3 240.7,370.8 242.2,375.3 243.5,378.7 244.5,376.7 246.0,378.5 247.6,378.0 249.1,379.3 250.6,378.2 252.1,374.4 254.3,370.1 256.4,364.0 258.5,352.3 260.6,338.4 262.8,323.8 264.9,312.4 266.6,304.9 268.1,316.3 269.6,325.9 270.9,333.5 272.1,316.6 273.0,281.0 273.8,316.7 275.1,324.3 276.6,302.8 279.0,304.3 282.0,305.3 284.0,306.3 286.5,315.9 289.7,313.9 291.2,317.3 293.5,313.9 295.8,327.3 298.8,334.5 302.0,334.7 305.5,334.7 306.1,338.1 307.9,333.5 309.5,339.1 310.9,346.9 312.2,339.1 313.4,334.7 315.8,342.0 318.0,345.6 320.7,349.3 323.0,351.6 325.5,353.6 328.0,355.1 330.4,356.6 333.0,357.6 335.3,358.4 337.0,357.1 337.8,343.3 338.9,331.3 339.6,324.3" fill="none" stroke="#2b0d3c" stroke-width="2.3" stroke-linejoin="round" stroke-linecap="round" />
<polyline points="338.9,331.3 339.6,324.3 340.3,313.3 341.0,299.3 341.8,290.3 342.7,286.3 344.0,285.6 345.0,286.1 346.0,284.5 346.8,284.9 347.7,291.0 349.0,297.6 350.4,304.6 351.7,310.3 353.1,315.6 354.5,319.8 356.0,323.6 358.0,328.8 360.0,336.3 363.0,342.3 365.8,346.6 368.6,359.4 371.3,372.1 374.0,378.5 375.3,376.7 376.8,364.8 378.6,355.7 380.4,356.6 382.2,354.8 384.1,355.7 385.9,354.8 387.7,357.5 389.5,366.7 392.3,376.7 395.0,380.3 398.7,383.1 401.4,383.1 404.1,382.3 408.0,380.8 411.0,379.3 411.9,373.8 413.9,372.5 415.8,369.9 417.8,370.6 419.7,372.5 421.7,371.9 423.6,373.2 424.9,370.6 426.8,369.9 428.8,369.3 430.1,373.8 431.4,368.6 433.3,364.7 434.6,363.4 436.6,366.0 438.5,368.0 440.1,369.3 441.7,362.1 443.7,359.6 445.6,358.9 447.6,357.0 449.5,355.7 451.5,355.0 452.7,357.6 454.7,351.8 456.6,345.3 458.6,348.5 459.9,349.8 461.8,347.9 463.8,348.5 465.1,340.8 467.0,340.1 468.9,338.8 470.2,340.1 472.2,340.8 474.1,340.1 475.4,340.8 477.0,341.6" fill="none" stroke="#2b0d3c" stroke-width="2.0" stroke-linejoin="round" stroke-linecap="round" />
<polyline points="67.2,350.5 67.8,351.8 69.6,359.8 71.5,366.1 72.8,369.1 73.3,361.6 73.7,355.6 74.7,374.2 75.1,373.8 76.0,372.9 76.2,373.8 76.9,377.0 77.1,377.1 77.9,377.3 78.3,377.3 78.8,374.4 79.2,372.1 79.9,379.7 80.6,380.8 81.0,381.4 82.0,381.9 82.4,382.1 82.9,382.7 83.8,383.8 84.2,384.1 84.7,384.6 85.1,385.0 85.6,385.7 86.1,386.5 86.5,387.1 87.4,385.1 88.3,370.8 88.3,359.9 88.8,360.9 89.5,375.6 90.5,387.2 91.7,388.2 92.7,382.0 94.1,375.7 95.6,366.3 97.1,356.6 98.4,365.5 99.6,380.7 101.0,390.7 102.7,392.0 104.1,385.8 105.3,368.6 106.6,350.2 108.0,341.8 109.4,338.2 110.6,350.1 111.8,366.0 113.2,380.8 114.6,389.5 115.8,391.9 117.0,380.5 118.1,391.9 119.3,393.1 120.5,377.6 121.9,361.3 123.8,339.5 125.7,334.6 127.2,337.9 128.5,349.8 130.4,361.6 132.3,370.4 134.2,379.0 136.1,387.3 138.0,394.1 139.4,396.1 140.5,377.2 141.8,396.8 143.2,382.7 144.7,354.9 146.6,345.7 147.6,342.3 148.7,337.1 149.5,340.1 150.1,336.3 151.1,341.5 152.2,344.6 153.2,337.7 154.2,344.9 155.8,342.0 157.3,353.2 158.7,363.5 160.4,352.7 162.0,351.3 163.4,361.1 164.9,357.2 166.5,365.1 168.2,355.4 169.6,371.1 171.0,361.3 172.3,384.9 173.4,354.9 174.6,368.9 176.0,381.5 177.5,369.0 179.1,381.5 180.8,385.7 181.9,377.4 183.5,364.9 184.8,353.7 186.3,348.4 187.4,334.8 188.5,325.3 190.1,326.9 191.4,321.9 192.9,317.1 194.5,314.3 196.2,318.4 198.0,311.1 199.5,317.0 201.1,313.5 202.3,322.6 203.9,326.5 205.9,337.2 207.9,347.9 209.9,356.7 211.4,359.7 212.8,354.1 214.2,346.6 215.8,338.8 217.4,327.3 218.8,337.4 220.1,347.9 221.3,353.0 222.7,335.4 224.1,317.4 225.3,314.5 226.7,323.7 227.3,332.4 228.6,339.9 229.8,326.4 230.8,321.9 232.4,322.7 233.4,330.9 234.6,342.9 236.2,353.3 237.7,355.3 239.2,363.0 240.7,370.5 242.2,375.0 243.5,378.3 244.5,376.1 246.0,377.7 247.6,376.8 249.1,377.8 250.6,376.5 252.1,372.6 254.3,368.3 256.4,362.1 258.5,350.2 260.6,336.1 262.8,321.4 264.9,310.2 266.6,302.5 268.1,314.1 269.6,324.0 270.9,331.8 272.1,314.4 273.0,277.8 273.8,314.5 275.1,322.3 276.6,318.3 280.0,320.7 284.0,320.9 286.5,335.2 289.7,327.6 291.2,333.6 293.5,327.6 295.8,341.3 298.8,348.8 302.0,348.3 305.5,347.9 306.1,351.5 307.9,346.3 310.9,359.9 313.4,348.9 315.8,351.3 320.7,357.2 325.5,360.8 330.4,362.5 335.3,363.6 337.0,363.1 337.8,345.6 338.9,331.3 339.6,324.3" fill="none" stroke="#37327c" stroke-width="2.3" stroke-linejoin="round" stroke-linecap="round" />
<polyline points="338.9,331.3 339.6,324.3 340.3,313.3 341.0,299.3 341.8,290.3 342.7,286.3 344.0,285.6 345.0,286.1 346.0,284.5 346.8,284.9 347.7,291.0 349.0,297.6 350.4,304.6 351.7,310.3 353.1,315.6 354.5,319.8 356.0,323.6 358.0,328.8 363.0,342.3 364.0,343.6 366.7,347.2 369.5,351.8 372.2,355.4 374.0,359.1 375.3,360.9 376.8,339.0 378.6,334.5 381.3,337.2 384.1,346.3 386.8,358.2 389.5,368.2 393.2,376.4 396.8,380.0 400.5,381.9 411.0,379.3 411.9,373.8 413.9,372.5 415.8,369.9 417.8,370.6 419.7,372.5 421.7,371.9 423.6,373.2 424.9,370.6 426.8,369.9 428.8,369.3 430.1,373.8 431.4,368.6 433.3,364.7 434.6,363.4 436.6,366.0 438.5,368.0 440.1,369.3 441.7,362.1 443.7,359.6 445.6,358.9 447.6,357.0 449.5,355.7 451.5,355.0 452.7,357.6 454.7,351.8 456.6,345.3 458.6,348.5 459.9,349.8 461.8,347.9 463.8,348.5 465.1,340.8 467.0,340.1 468.9,338.8 470.2,340.1 472.2,340.8 474.1,340.1 475.4,340.8 477.0,341.6" fill="none" stroke="#37327c" stroke-width="2.0" stroke-linejoin="round" stroke-linecap="round" />
<polyline points="67.2,352.4 67.8,353.8 69.6,361.6 71.5,367.9 72.8,371.1 73.3,363.7 73.7,357.8 74.7,374.6 75.1,373.1 76.0,369.8 76.2,371.4 76.9,377.1 77.1,376.9 77.9,376.1 78.3,375.6 78.8,368.8 79.2,363.3 79.9,379.0 80.6,380.5 81.0,381.3 82.0,381.3 82.4,381.3 82.9,382.0 83.8,383.3 84.2,383.3 84.7,383.6 85.1,383.8 85.6,384.6 86.1,385.4 86.5,386.1 87.4,380.2 88.3,363.2 88.3,355.7 88.8,356.8 89.5,373.2 90.5,386.1 91.7,387.3 92.7,380.3 94.1,373.3 95.6,362.8 97.1,351.9 98.4,361.8 99.6,378.8 101.0,390.0 102.7,391.5 104.1,384.5 105.3,365.0 106.6,344.2 108.0,334.7 109.4,330.6 110.6,344.2 111.8,362.1 113.2,378.9 114.6,388.6 115.8,391.4 117.0,378.6 118.1,391.4 119.3,392.8 120.5,375.6 121.9,357.6 123.8,333.7 125.7,328.6 127.2,332.1 128.5,345.0 130.4,357.9 132.3,367.5 134.2,376.9 136.1,386.2 138.0,393.8 139.4,396.1 140.5,374.5 141.8,396.8 143.2,380.6 144.7,348.5 146.6,338.0 147.6,334.9 148.7,329.7 149.5,333.7 150.1,329.8 151.1,336.2 152.2,340.2 153.2,333.2 154.2,341.3 155.8,337.8 157.3,349.5 158.7,360.4 160.4,350.4 162.0,350.7 163.4,360.6 164.9,356.7 166.5,364.7 168.2,354.8 169.6,370.7 171.0,360.8 172.3,384.7 173.4,354.2 174.6,368.5 176.0,381.2 177.5,368.5 179.1,381.3 180.8,385.5 181.9,377.0 183.5,364.4 184.8,352.5 186.3,346.1 187.4,331.3 188.5,321.3 190.1,323.1 191.4,317.6 192.9,312.2 194.5,308.9 196.2,313.2 198.0,306.0 199.5,312.9 201.1,309.8 202.3,319.5 203.9,323.4 205.9,334.5 207.9,345.6 209.9,354.7 211.4,357.9 212.8,352.3 214.2,344.6 215.8,336.8 217.4,325.2 218.8,335.9 220.1,346.8 221.3,352.1 222.7,334.5 224.1,316.5 225.3,313.9 226.7,323.3 227.3,332.1 228.6,339.6 229.8,326.1 230.8,321.5 232.4,322.3 233.4,330.6 234.6,342.6 236.2,353.1 237.7,354.9 239.2,362.6 240.7,370.2 242.2,374.7 243.5,377.9 244.5,375.4 246.0,376.8 247.6,375.5 249.1,376.1 250.6,374.5 252.1,370.5 254.3,366.2 256.4,360.0 258.5,347.7 260.6,333.4 262.8,318.7 264.9,307.6 266.6,299.7 268.1,311.6 269.6,321.7 270.9,329.8 272.1,311.8 273.0,274.0 273.8,311.9 275.1,319.9 276.6,315.3 280.0,317.9 284.0,318.1 286.5,330.1 289.7,324.3 291.2,331.3 293.5,324.3 295.8,339.3 298.8,345.3 302.0,344.3 305.5,344.0 306.1,348.3 307.9,342.7 310.9,355.0 313.4,343.6 315.8,348.4 320.7,355.0 325.5,359.1 330.4,361.0 335.3,362.3 337.0,361.3 337.8,344.9 338.9,331.3 339.6,324.3" fill="none" stroke="#396488" stroke-width="2.3" stroke-linejoin="round" stroke-linecap="round" />
<polyline points="338.9,331.3 339.6,324.3 340.3,313.3 341.0,299.3 341.8,290.3 342.7,286.3 344.0,285.6 345.0,286.1 346.0,284.5 346.8,284.9 347.7,291.0 349.0,297.6 350.4,304.6 351.7,310.3 353.1,315.6 354.5,319.8 356.0,323.6 358.0,328.8 363.0,341.3 364.0,342.7 366.7,344.5 369.5,348.1 372.2,351.8 374.0,355.4 375.3,357.2 376.8,337.2 378.6,332.6 381.3,335.4 384.1,344.5 386.8,355.4 389.5,366.4 393.2,374.6 396.8,378.2 400.5,380.0 404.1,381.3 411.0,378.9 411.9,373.8 413.9,372.5 415.8,369.9 417.8,370.6 419.7,372.5 421.7,371.9 423.6,373.2 424.9,370.6 426.8,369.9 428.8,369.3 430.1,373.8 431.4,368.6 433.3,364.7 434.6,363.4 436.6,366.0 438.5,368.0 440.1,369.3 441.7,362.1 443.7,359.6 445.6,358.9 447.6,357.0 449.5,355.7 451.5,355.0 452.7,357.6 454.7,351.8 456.6,345.3 458.6,348.5 459.9,349.8 461.8,347.9 463.8,348.5 465.1,340.8 467.0,340.1 468.9,338.8 470.2,340.1 472.2,340.8 474.1,340.1 475.4,340.8 477.0,341.6" fill="none" stroke="#396488" stroke-width="2.0" stroke-linejoin="round" stroke-linecap="round" />
<polyline points="67.2,354.4 67.8,355.8 69.6,363.4 71.5,369.7 72.8,373.1 73.3,365.9 73.7,360.1 74.7,375.1 75.1,372.5 76.0,366.6 76.2,369.0 76.9,377.2 77.1,376.8 77.9,374.9 78.3,373.9 78.8,363.1 79.2,354.5 79.9,378.3 80.6,380.2 81.0,381.2 82.0,380.6 82.4,380.4 82.9,381.2 83.8,382.7 84.2,382.6 84.7,382.6 85.1,382.6 85.6,383.5 86.1,384.3 86.5,385.1 87.4,375.2 88.3,355.7 88.3,351.5 88.8,352.7 89.5,370.8 90.5,385.1 91.7,386.3 92.7,378.6 94.1,370.9 95.6,359.2 97.1,347.2 98.4,358.1 99.6,376.9 101.0,389.3 102.7,391.0 104.1,383.1 105.3,361.5 106.6,338.2 108.0,327.5 109.4,322.9 110.6,338.2 111.8,358.3 113.2,376.9 114.6,387.8 115.8,390.9 117.0,376.8 118.1,390.9 119.3,392.4 120.5,373.6 121.9,354.0 123.8,328.0 125.7,322.6 127.2,326.2 128.5,340.2 130.4,354.1 132.3,364.5 134.2,374.8 136.1,385.1 138.0,393.6 139.4,396.0 140.5,371.8 141.8,396.9 143.2,378.6 144.7,342.1 146.6,330.4 147.6,327.4 148.7,322.3 149.5,327.2 150.1,323.3 151.1,330.8 152.2,335.7 153.2,328.8 154.2,337.7 155.8,333.5 157.3,345.8 158.7,357.3 160.4,348.1 162.0,350.1 163.4,360.2 164.9,356.1 166.5,364.2 168.2,354.2 169.6,370.4 171.0,360.2 172.3,384.5 173.4,353.6 174.6,368.0 176.0,381.0 177.5,368.1 179.1,381.0 180.8,385.3 181.9,376.7 183.5,363.8 184.8,351.4 186.3,343.8 187.4,327.7 188.5,317.3 190.1,319.3 191.4,313.3 192.9,307.4 194.5,303.6 196.2,307.9 198.0,301.0 199.5,308.7 201.1,306.0 202.3,316.4 203.9,320.4 205.9,331.8 207.9,343.2 209.9,352.7 211.4,356.2 212.8,350.4 214.2,342.7 215.8,334.8 217.4,323.1 218.8,334.3 220.1,345.7 221.3,351.3 222.7,333.5 224.1,315.6 225.3,313.3 226.7,322.9 227.3,331.8 228.6,339.3 229.8,325.7 230.8,321.2 232.4,321.9 233.4,330.3 234.6,342.3 236.2,352.9 237.7,354.6 239.2,362.2 240.7,369.8 242.2,374.3 243.5,377.5 244.5,374.7 246.0,375.8 247.6,374.1 249.1,374.5 250.6,372.5 252.1,368.3 254.3,364.0 256.4,357.8 258.5,345.3 260.6,330.7 262.8,315.9 264.9,305.0 266.6,296.8 268.1,309.2 269.6,319.5 270.9,327.8 272.1,309.3 273.0,270.3 273.8,309.3 275.1,317.5 276.6,308.8 280.0,311.8 284.0,312.3 286.5,322.5 289.7,319.4 291.2,324.0 293.5,319.4 295.8,334.6 298.8,339.2 302.0,339.4 305.5,339.4 306.1,342.8 307.9,338.0 309.5,343.5 310.9,351.2 312.2,343.3 313.4,338.8 315.8,345.9 318.0,349.3 320.7,352.7 323.0,354.8 325.5,356.6 328.0,357.9 330.4,359.2 333.0,360.0 335.3,360.6 337.0,359.3 337.8,344.4 338.9,331.3 339.6,324.3" fill="none" stroke="#3f8f6b" stroke-width="2.3" stroke-linejoin="round" stroke-linecap="round" />
<polyline points="338.9,331.3 339.6,324.3 340.3,313.3 341.0,299.3 341.8,290.3 342.7,286.3 344.0,285.6 345.0,286.1 346.0,284.5 346.8,284.9 347.7,291.0 349.0,297.6 350.4,304.6 351.7,310.3 353.1,315.6 354.5,319.8 356.0,323.6 358.0,328.8 362.5,340.3 364.0,341.7 366.7,339.0 369.5,339.0 372.2,340.8 374.0,345.4 375.3,347.2 376.8,334.5 378.6,330.8 381.3,333.5 384.1,340.8 386.8,351.8 389.5,362.7 393.2,371.8 396.8,376.4 400.5,378.2 404.1,382.8 407.8,379.1 410.0,378.2 411.9,373.0 413.9,371.7 415.8,369.1 417.8,369.8 419.7,371.7 421.7,371.1 423.6,372.4 424.9,369.8 426.8,369.1 428.8,368.5 430.1,373.0 431.4,367.8 433.3,363.9 434.6,362.6 436.6,365.2 438.5,367.2 440.1,368.5 441.7,361.3 443.7,358.8 445.6,358.1 447.6,356.2 449.5,354.9 451.5,354.2 452.7,356.8 454.7,351.0 456.6,344.5 458.6,347.7 459.9,349.0 461.8,347.1 463.8,347.7 465.1,340.0 467.0,339.3 468.9,338.0 470.2,339.3 472.2,340.0 474.1,339.3 475.4,340.0 477.0,340.8" fill="none" stroke="#3f8f6b" stroke-width="2.0" stroke-linejoin="round" stroke-linecap="round" />
</g>
<g clip-path="url(#cp2)">
<polyline points="360.1,520.4 362.0,542.3 363.4,558.8 364.7,564.2 366.6,569.7 368.8,577.9 371.0,580.1 374.3,580.7 377.1,572.5 379.8,565.6 382.5,561.5 384.7,550.5 386.6,545.1 388.6,543.7 390.8,550.5 393.5,567.0 396.2,577.9 399.0,583.4 400.0,581.8 402.5,584.3 404.7,586.8 406.3,581.8 408.0,579.3" fill="none" stroke="#2b0d3c" stroke-width="2.2" stroke-linejoin="round" stroke-linecap="round" />
<polyline points="68.5,577.4 71.5,580.8 74.2,584.0 75.6,585.6 76.7,576.0 77.6,585.6 79.0,590.4 81.0,591.0 82.4,588.4 83.8,587.7 85.1,591.0 86.2,593.8 87.2,580.2 88.1,593.8 88.8,563.8 89.5,580.2 90.3,570.6 91.3,592.5 92.7,585.6 94.0,585.6 95.4,577.4 97.4,565.8 98.8,572.0 100.2,591.0 101.5,600.7 102.9,603.7 105.0,596.6 106.3,572.0 107.0,546.0 108.4,540.5 109.1,535.0 110.0,531.0 111.1,547.3 112.5,561.0 113.9,574.7 115.2,596.6 116.6,605.5 118.6,606.1 120.0,596.6 121.4,574.7 122.7,546.0 124.8,537.8 126.8,536.4 128.9,543.2 130.0,543.4 131.7,563.5 133.3,570.2 134.2,578.5 135.8,590.2 137.5,600.2 138.4,581.9 139.2,605.2 140.4,563.5 141.7,600.2 142.0,565.2 143.4,566.8 145.0,555.1 146.7,540.1 148.0,555.1 148.7,535.1 149.7,545.1 150.9,528.4 151.7,550.1 153.0,535.1 154.2,550.1 155.9,548.4 157.2,540.1 158.4,575.2 159.7,553.5 161.4,558.5 163.1,563.5 165.1,570.2 166.8,571.8 168.4,576.8 170.1,536.8 171.4,573.5 173.1,533.4 174.3,528.4 175.4,541.8 176.4,558.5 177.6,541.8 178.8,550.1 180.1,566.8 181.8,583.5 183.1,585.2 184.3,570.2 185.6,550.1 186.8,551.8 187.6,570.2 188.8,520.0 189.8,545.1 191.0,525.1 192.6,523.4 194.3,516.7 195.5,513.4 195.9,511.0 196.8,534.7 197.7,511.0 198.6,523.7 199.6,512.8 200.5,527.4 201.7,512.8 202.7,529.2 204.1,531.0 205.0,542.0 206.3,543.8 207.8,551.1 209.6,558.4 211.4,563.9 213.2,562.9 215.1,558.4 216.5,543.8 217.8,540.2 219.1,549.3 220.5,552.9 222.0,562.0 223.3,534.7 224.2,507.3 225.1,494.6 226.9,496.4 227.8,511.0 228.7,522.8 230.0,505.5 231.1,500.1 232.4,499.1 233.3,503.7 235.1,516.5 237.8,536.5 239.7,556.6 241.5,574.8 243.3,584.8 244.6,585.7 246.0,582.1 247.3,572.0 248.8,579.3 250.6,578.4 253.3,579.3 255.5,576.6 257.9,565.7 259.7,552.9 261.2,542.1 262.9,529.9 264.9,523.9 266.6,519.0 268.0,514.1 269.2,522.6 270.9,532.4 272.2,529.9 273.4,485.0 274.6,512.9 275.8,525.1 277.5,519.0 279.4,520.2 281.9,522.6 284.3,523.9 286.3,526.3 288.0,536.0 289.7,529.9 291.1,536.0 292.8,532.4 294.0,531.2 296.0,537.2 297.7,544.5 300.1,547.0 302.5,548.2 305.0,549.4 306.7,550.6 308.6,547.0 309.8,551.8 311.5,559.1 313.5,547.0 315.4,553.0 317.9,557.9 320.8,560.3 322.7,559.1 324.4,561.5 328.1,562.0 330.0,561.5 333.2,558.8 336.0,550.5 337.3,539.6 338.7,512.2 340.1,484.8 342.0,465.6 344.2,460.1 346.4,459.6 348.3,464.2 351.0,479.3 353.8,491.6 356.5,498.5 358.4,509.5 360.1,520.4 362.0,539.6 363.4,545.1 366.1,536.8 368.8,532.7 371.6,529.2 373.8,531.4 375.7,538.2 377.6,530.8 379.8,529.2 382.5,531.4 384.7,534.1 386.6,532.7 388.6,536.8 390.8,545.1 392.9,556.0 394.9,567.0 397.6,576.6 400.0,578.5 401.7,581.8 403.3,583.5 404.7,585.1 406.3,581.8 408.0,579.3 409.7,578.5 411.4,576.8 412.5,570.1 414.2,565.1 415.4,560.9 416.7,562.6 418.0,560.4 419.7,564.3 421.7,568.4 424.2,573.5 426.7,573.5 428.4,574.3 430.1,576.8 431.7,574.3 434.2,571.0 436.7,572.6 439.7,575.1 441.7,570.1 443.4,567.6 445.9,566.8 447.6,565.4 449.2,564.3 450.9,563.4 452.6,564.3 455.1,560.9 456.8,558.4 458.4,561.8 460.4,560.1 462.6,560.1 464.3,556.8 465.9,555.1 468.4,554.3 471.0,553.8 473.5,553.4 475.1,554.3 476.0,554.5" fill="none" stroke="#3f8f6b" stroke-width="2.2" stroke-linejoin="round" stroke-linecap="round" />
<circle cx="198.3" cy="524.3" r="0.95" fill="#2b0d3c"/>
<circle cx="200.8" cy="527.2" r="0.95" fill="#2b0d3c"/>
<circle cx="202.5" cy="530.6" r="0.95" fill="#2b0d3c"/>
<circle cx="196.8" cy="537.3" r="0.95" fill="#2b0d3c"/>
<circle cx="204.7" cy="542.4" r="0.95" fill="#2b0d3c"/>
</g>
<rect x="67.1" y="1.0" width="409.70000000000005" height="199.05" fill="none" stroke="#000" stroke-width="1.9"/>
<line x1="67.1" y1="23.35" x2="72.20" y2="23.35" stroke="#000" stroke-width="1.35"/>
<text x="62.2" y="28.35" font-size="14" text-anchor="end" fill="#1e1e1e">4320</text>
<line x1="67.1" y1="58.02" x2="72.20" y2="58.02" stroke="#000" stroke-width="1.35"/>
<text x="62.2" y="63.02" font-size="14" text-anchor="end" fill="#1e1e1e">4300</text>
<line x1="67.1" y1="92.69" x2="72.20" y2="92.69" stroke="#000" stroke-width="1.35"/>
<text x="62.2" y="97.69" font-size="14" text-anchor="end" fill="#1e1e1e">4280</text>
<line x1="67.1" y1="127.36" x2="72.20" y2="127.36" stroke="#000" stroke-width="1.35"/>
<text x="62.2" y="132.36" font-size="14" text-anchor="end" fill="#1e1e1e">4260</text>
<line x1="67.1" y1="162.03" x2="72.20" y2="162.03" stroke="#000" stroke-width="1.35"/>
<text x="62.2" y="167.03" font-size="14" text-anchor="end" fill="#1e1e1e">4240</text>
<line x1="476.8" y1="14.84" x2="471.30" y2="14.84" stroke="#000" stroke-width="1.35"/>
<text x="482.2" y="21.54" font-size="14" fill="#1e1e1e">80</text>
<line x1="476.8" y1="38.02" x2="471.30" y2="38.02" stroke="#000" stroke-width="1.35"/>
<text x="482.2" y="44.72" font-size="14" fill="#1e1e1e">70</text>
<line x1="476.8" y1="61.20" x2="471.30" y2="61.20" stroke="#000" stroke-width="1.35"/>
<text x="482.2" y="67.90" font-size="14" fill="#1e1e1e">60</text>
<line x1="476.8" y1="84.38" x2="471.30" y2="84.38" stroke="#000" stroke-width="1.35"/>
<text x="482.2" y="91.08" font-size="14" fill="#1e1e1e">50</text>
<line x1="476.8" y1="107.56" x2="471.30" y2="107.56" stroke="#000" stroke-width="1.35"/>
<text x="482.2" y="114.26" font-size="14" fill="#1e1e1e">40</text>
<line x1="476.8" y1="130.74" x2="471.30" y2="130.74" stroke="#000" stroke-width="1.35"/>
<text x="482.2" y="137.44" font-size="14" fill="#1e1e1e">30</text>
<line x1="476.8" y1="153.92" x2="471.30" y2="153.92" stroke="#000" stroke-width="1.35"/>
<text x="482.2" y="160.62" font-size="14" fill="#1e1e1e">20</text>
<line x1="476.8" y1="177.10" x2="471.30" y2="177.10" stroke="#000" stroke-width="1.35"/>
<text x="482.2" y="183.80" font-size="14" fill="#1e1e1e">10</text>
<line x1="97.45" y1="1.0" x2="97.45" y2="6.20" stroke="#000" stroke-width="1.35"/>
<line x1="97.45" y1="200.05" x2="97.45" y2="194.85" stroke="#000" stroke-width="1.35"/>
<line x1="173.3" y1="1.0" x2="173.3" y2="6.20" stroke="#000" stroke-width="1.35"/>
<line x1="173.3" y1="200.05" x2="173.3" y2="194.85" stroke="#000" stroke-width="1.35"/>
<line x1="249.2" y1="1.0" x2="249.2" y2="6.20" stroke="#000" stroke-width="1.35"/>
<line x1="249.2" y1="200.05" x2="249.2" y2="194.85" stroke="#000" stroke-width="1.35"/>
<line x1="325.1" y1="1.0" x2="325.1" y2="6.20" stroke="#000" stroke-width="1.35"/>
<line x1="325.1" y1="200.05" x2="325.1" y2="194.85" stroke="#000" stroke-width="1.35"/>
<line x1="400.9" y1="1.0" x2="400.9" y2="6.20" stroke="#000" stroke-width="1.35"/>
<line x1="400.9" y1="200.05" x2="400.9" y2="194.85" stroke="#000" stroke-width="1.35"/>
<text transform="translate(14.3,191.4) rotate(-90)" font-size="16.5" textLength="88.8" lengthAdjust="spacing" fill="#1e1e1e">transit depth</text>
<text transform="translate(14.3,96.8) rotate(-90)" font-size="16.5" textLength="95.6" lengthAdjust="spacing" fill="#1e1e1e">(<tspan font-style="italic">R</tspan><tspan font-style="italic" font-size="11" dy="3">p</tspan><tspan dy="-3">/</tspan><tspan font-style="italic">R</tspan><tspan font-style="italic" font-size="11" dy="3">s</tspan><tspan dy="-3">)</tspan><tspan font-size="11" dy="-7">2</tspan><tspan dy="7"> [ppm]</tspan></text>
<text transform="translate(513.0,18.6) rotate(90)" font-size="16.5" textLength="156.8" lengthAdjust="spacing" fill="#1e1e1e">absorbing radius [km]</text>
<text x="78.6" y="22.3" font-size="13.6" textLength="15.4" lengthAdjust="spacingAndGlyphs" fill="#1e1e1e">(a)</text>
<rect x="67.1" y="208.25" width="409.70000000000005" height="199.45" fill="none" stroke="#000" stroke-width="1.9"/>
<line x1="67.1" y1="230.67" x2="72.20" y2="230.67" stroke="#000" stroke-width="1.35"/>
<text x="62.2" y="235.67" font-size="14" text-anchor="end" fill="#1e1e1e">4320</text>
<line x1="67.1" y1="265.34" x2="72.20" y2="265.34" stroke="#000" stroke-width="1.35"/>
<text x="62.2" y="270.34" font-size="14" text-anchor="end" fill="#1e1e1e">4300</text>
<line x1="67.1" y1="300.01" x2="72.20" y2="300.01" stroke="#000" stroke-width="1.35"/>
<text x="62.2" y="305.01" font-size="14" text-anchor="end" fill="#1e1e1e">4280</text>
<line x1="67.1" y1="334.68" x2="72.20" y2="334.68" stroke="#000" stroke-width="1.35"/>
<text x="62.2" y="339.68" font-size="14" text-anchor="end" fill="#1e1e1e">4260</text>
<line x1="67.1" y1="369.35" x2="72.20" y2="369.35" stroke="#000" stroke-width="1.35"/>
<text x="62.2" y="374.35" font-size="14" text-anchor="end" fill="#1e1e1e">4240</text>
<line x1="476.8" y1="222.14" x2="471.30" y2="222.14" stroke="#000" stroke-width="1.35"/>
<text x="482.2" y="228.84" font-size="14" fill="#1e1e1e">80</text>
<line x1="476.8" y1="245.32" x2="471.30" y2="245.32" stroke="#000" stroke-width="1.35"/>
<text x="482.2" y="252.02" font-size="14" fill="#1e1e1e">70</text>
<line x1="476.8" y1="268.50" x2="471.30" y2="268.50" stroke="#000" stroke-width="1.35"/>
<text x="482.2" y="275.20" font-size="14" fill="#1e1e1e">60</text>
<line x1="476.8" y1="291.68" x2="471.30" y2="291.68" stroke="#000" stroke-width="1.35"/>
<text x="482.2" y="298.38" font-size="14" fill="#1e1e1e">50</text>
<line x1="476.8" y1="314.86" x2="471.30" y2="314.86" stroke="#000" stroke-width="1.35"/>
<text x="482.2" y="321.56" font-size="14" fill="#1e1e1e">40</text>
<line x1="476.8" y1="338.04" x2="471.30" y2="338.04" stroke="#000" stroke-width="1.35"/>
<text x="482.2" y="344.74" font-size="14" fill="#1e1e1e">30</text>
<line x1="476.8" y1="361.22" x2="471.30" y2="361.22" stroke="#000" stroke-width="1.35"/>
<text x="482.2" y="367.92" font-size="14" fill="#1e1e1e">20</text>
<line x1="476.8" y1="384.40" x2="471.30" y2="384.40" stroke="#000" stroke-width="1.35"/>
<text x="482.2" y="391.10" font-size="14" fill="#1e1e1e">10</text>
<line x1="97.45" y1="208.25" x2="97.45" y2="213.45" stroke="#000" stroke-width="1.35"/>
<line x1="97.45" y1="407.7" x2="97.45" y2="402.50" stroke="#000" stroke-width="1.35"/>
<line x1="173.3" y1="208.25" x2="173.3" y2="213.45" stroke="#000" stroke-width="1.35"/>
<line x1="173.3" y1="407.7" x2="173.3" y2="402.50" stroke="#000" stroke-width="1.35"/>
<line x1="249.2" y1="208.25" x2="249.2" y2="213.45" stroke="#000" stroke-width="1.35"/>
<line x1="249.2" y1="407.7" x2="249.2" y2="402.50" stroke="#000" stroke-width="1.35"/>
<line x1="325.1" y1="208.25" x2="325.1" y2="213.45" stroke="#000" stroke-width="1.35"/>
<line x1="325.1" y1="407.7" x2="325.1" y2="402.50" stroke="#000" stroke-width="1.35"/>
<line x1="400.9" y1="208.25" x2="400.9" y2="213.45" stroke="#000" stroke-width="1.35"/>
<line x1="400.9" y1="407.7" x2="400.9" y2="402.50" stroke="#000" stroke-width="1.35"/>
<text transform="translate(14.3,398.6) rotate(-90)" font-size="16.5" textLength="88.8" lengthAdjust="spacing" fill="#1e1e1e">transit depth</text>
<text transform="translate(14.3,304.1) rotate(-90)" font-size="16.5" textLength="95.6" lengthAdjust="spacing" fill="#1e1e1e">(<tspan font-style="italic">R</tspan><tspan font-style="italic" font-size="11" dy="3">p</tspan><tspan dy="-3">/</tspan><tspan font-style="italic">R</tspan><tspan font-style="italic" font-size="11" dy="3">s</tspan><tspan dy="-3">)</tspan><tspan font-size="11" dy="-7">2</tspan><tspan dy="7"> [ppm]</tspan></text>
<text transform="translate(513.0,225.8) rotate(90)" font-size="16.5" textLength="156.8" lengthAdjust="spacing" fill="#1e1e1e">absorbing radius [km]</text>
<text x="78.6" y="229.6" font-size="13.6" textLength="15.4" lengthAdjust="spacingAndGlyphs" fill="#1e1e1e">(b)</text>
<rect x="67.1" y="414.75" width="409.70000000000005" height="199.10000000000002" fill="none" stroke="#000" stroke-width="1.9"/>
<line x1="67.1" y1="437.35" x2="72.20" y2="437.35" stroke="#000" stroke-width="1.35"/>
<text x="62.2" y="442.35" font-size="14" text-anchor="end" fill="#1e1e1e">4320</text>
<line x1="67.1" y1="472.02" x2="72.20" y2="472.02" stroke="#000" stroke-width="1.35"/>
<text x="62.2" y="477.02" font-size="14" text-anchor="end" fill="#1e1e1e">4300</text>
<line x1="67.1" y1="506.69" x2="72.20" y2="506.69" stroke="#000" stroke-width="1.35"/>
<text x="62.2" y="511.69" font-size="14" text-anchor="end" fill="#1e1e1e">4280</text>
<line x1="67.1" y1="541.36" x2="72.20" y2="541.36" stroke="#000" stroke-width="1.35"/>
<text x="62.2" y="546.36" font-size="14" text-anchor="end" fill="#1e1e1e">4260</text>
<line x1="67.1" y1="576.03" x2="72.20" y2="576.03" stroke="#000" stroke-width="1.35"/>
<text x="62.2" y="581.03" font-size="14" text-anchor="end" fill="#1e1e1e">4240</text>
<line x1="476.8" y1="428.84" x2="471.30" y2="428.84" stroke="#000" stroke-width="1.35"/>
<text x="482.2" y="435.54" font-size="14" fill="#1e1e1e">80</text>
<line x1="476.8" y1="452.02" x2="471.30" y2="452.02" stroke="#000" stroke-width="1.35"/>
<text x="482.2" y="458.72" font-size="14" fill="#1e1e1e">70</text>
<line x1="476.8" y1="475.20" x2="471.30" y2="475.20" stroke="#000" stroke-width="1.35"/>
<text x="482.2" y="481.90" font-size="14" fill="#1e1e1e">60</text>
<line x1="476.8" y1="498.38" x2="471.30" y2="498.38" stroke="#000" stroke-width="1.35"/>
<text x="482.2" y="505.08" font-size="14" fill="#1e1e1e">50</text>
<line x1="476.8" y1="521.56" x2="471.30" y2="521.56" stroke="#000" stroke-width="1.35"/>
<text x="482.2" y="528.26" font-size="14" fill="#1e1e1e">40</text>
<line x1="476.8" y1="544.74" x2="471.30" y2="544.74" stroke="#000" stroke-width="1.35"/>
<text x="482.2" y="551.44" font-size="14" fill="#1e1e1e">30</text>
<line x1="476.8" y1="567.92" x2="471.30" y2="567.92" stroke="#000" stroke-width="1.35"/>
<text x="482.2" y="574.62" font-size="14" fill="#1e1e1e">20</text>
<line x1="476.8" y1="591.10" x2="471.30" y2="591.10" stroke="#000" stroke-width="1.35"/>
<text x="482.2" y="597.80" font-size="14" fill="#1e1e1e">10</text>
<line x1="97.45" y1="414.75" x2="97.45" y2="419.95" stroke="#000" stroke-width="1.35"/>
<line x1="97.45" y1="613.85" x2="97.45" y2="608.65" stroke="#000" stroke-width="1.35"/>
<line x1="173.3" y1="414.75" x2="173.3" y2="419.95" stroke="#000" stroke-width="1.35"/>
<line x1="173.3" y1="613.85" x2="173.3" y2="608.65" stroke="#000" stroke-width="1.35"/>
<line x1="249.2" y1="414.75" x2="249.2" y2="419.95" stroke="#000" stroke-width="1.35"/>
<line x1="249.2" y1="613.85" x2="249.2" y2="608.65" stroke="#000" stroke-width="1.35"/>
<line x1="325.1" y1="414.75" x2="325.1" y2="419.95" stroke="#000" stroke-width="1.35"/>
<line x1="325.1" y1="613.85" x2="325.1" y2="608.65" stroke="#000" stroke-width="1.35"/>
<line x1="400.9" y1="414.75" x2="400.9" y2="419.95" stroke="#000" stroke-width="1.35"/>
<line x1="400.9" y1="613.85" x2="400.9" y2="608.65" stroke="#000" stroke-width="1.35"/>
<text transform="translate(14.3,605.1) rotate(-90)" font-size="16.5" textLength="88.8" lengthAdjust="spacing" fill="#1e1e1e">transit depth</text>
<text transform="translate(14.3,510.6) rotate(-90)" font-size="16.5" textLength="95.6" lengthAdjust="spacing" fill="#1e1e1e">(<tspan font-style="italic">R</tspan><tspan font-style="italic" font-size="11" dy="3">p</tspan><tspan dy="-3">/</tspan><tspan font-style="italic">R</tspan><tspan font-style="italic" font-size="11" dy="3">s</tspan><tspan dy="-3">)</tspan><tspan font-size="11" dy="-7">2</tspan><tspan dy="7"> [ppm]</tspan></text>
<text transform="translate(513.0,432.4) rotate(90)" font-size="16.5" textLength="156.8" lengthAdjust="spacing" fill="#1e1e1e">absorbing radius [km]</text>
<text x="78.6" y="436.3" font-size="13.6" textLength="15.4" lengthAdjust="spacingAndGlyphs" fill="#1e1e1e">(c)</text>
<text x="97.45" y="630.7" font-size="14" text-anchor="middle" fill="#1e1e1e">1</text>
<text x="173.3" y="630.7" font-size="14" text-anchor="middle" fill="#1e1e1e">2</text>
<text x="249.2" y="630.7" font-size="14" text-anchor="middle" fill="#1e1e1e">3</text>
<text x="325.1" y="630.7" font-size="14" text-anchor="middle" fill="#1e1e1e">4</text>
<text x="400.9" y="630.7" font-size="14" text-anchor="middle" fill="#1e1e1e">5</text>
<text x="476.8" y="630.7" font-size="14" text-anchor="middle" fill="#1e1e1e">6</text>
<text x="199.8" y="654.4" font-size="17" textLength="126.8" lengthAdjust="spacing" fill="#1e1e1e">wavelength [µm]</text>
<rect x="421.2" y="15.10" width="10.2" height="4.8" fill="#2b0d3c"/>
<text x="436" y="22.10" font-size="13.4" fill="#1e1e1e">0.0</text>
<rect x="421.2" y="29.88" width="10.2" height="4.8" fill="#37327c"/>
<text x="436" y="36.88" font-size="13.4" fill="#1e1e1e">0.1</text>
<rect x="421.2" y="44.66" width="10.2" height="4.8" fill="#396488"/>
<text x="436" y="51.66" font-size="13.4" fill="#1e1e1e">0.3</text>
<rect x="421.2" y="59.44" width="10.2" height="4.8" fill="#3f8f6b"/>
<text x="436" y="66.44" font-size="13.4" fill="#1e1e1e">1.0</text>
<rect x="421.2" y="74.22" width="10.2" height="4.8" fill="#7bb540"/>
<text x="436" y="81.22" font-size="13.4" fill="#1e1e1e">3.0</text>
<rect x="421.2" y="89.00" width="10.2" height="4.8" fill="#ebe12c"/>
<text x="436" y="96.00" font-size="13.4" fill="#1e1e1e">10.0</text>
<rect x="96.7" y="444.8" width="10.1" height="4.6" fill="#2b0d3c"/>
<text x="110.2" y="451.3" font-size="13.1" fill="#1e1e1e">no CO</text>
<rect x="96.7" y="465.0" width="10.1" height="4.6" fill="#3f8f6b"/>
<text x="110.2" y="471.6" font-size="13.1" fill="#1e1e1e">Archean CO/CH<tspan font-size="9" dy="2.5">4</tspan></text>
<rect x="68.0" y="120.5" width="21" height="16" fill="#fff"/>
<rect x="160" y="123.5" width="24.5" height="16" fill="#fff"/>
<text x="72.5" y="133.2" font-size="13" fill="#1e1e1e">O<tspan font-size="9" dy="2.6">2</tspan></text>
<text x="161.8" y="136.0" font-size="13" fill="#1e1e1e">CO<tspan font-size="9" dy="2.6">2</tspan></text>
<text x="215.2" y="99.6" font-size="13" fill="#1e1e1e">CO<tspan font-size="9" dy="2.6">2</tspan></text>
<text x="334.2" y="69.8" font-size="13" fill="#1e1e1e">CO<tspan font-size="9" dy="2.6">2</tspan></text>
<text x="367.8" y="74.3" font-size="13.2" font-weight="bold" fill="#3a9765">CO</text>
<text x="72.5" y="340.5" font-size="13" fill="#1e1e1e">O<tspan font-size="9" dy="2.6">2</tspan></text>
<text x="161.8" y="344.0" font-size="13" fill="#1e1e1e">CO<tspan font-size="9" dy="2.6">2</tspan></text>
<text x="215.2" y="307.0" font-size="13" fill="#1e1e1e">CO<tspan font-size="9" dy="2.6">2</tspan></text>
<text x="334.3" y="278.8" font-size="13" fill="#1e1e1e">CO<tspan font-size="9" dy="2.6">2</tspan></text>
<text x="367.8" y="311.6" font-size="13.2" font-weight="bold" fill="#3a9765">CO</text>
<text x="158.6" y="520.6" font-size="13" fill="#1e1e1e">CO<tspan font-size="9" dy="2.6">2</tspan></text>
<text x="217.3" y="490.0" font-size="13" fill="#1e1e1e">CO<tspan font-size="9" dy="2.6">2</tspan></text>
<text x="334.8" y="452.6" font-size="13" fill="#1e1e1e">CO<tspan font-size="9" dy="2.6">2</tspan></text>
<text x="367.6" y="520.3" font-size="13.2" font-weight="bold" fill="#3a9765">CO</text>
</svg></body></html>
